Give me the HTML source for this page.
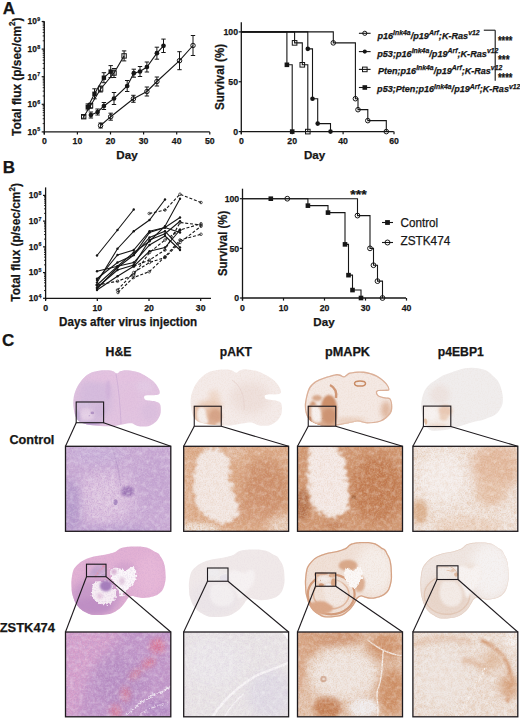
<!DOCTYPE html>
<html><head><meta charset="utf-8"><style>
html,body{margin:0;padding:0;background:#fff;width:520px;height:718px;overflow:hidden}
svg{display:block}
text{font-family:"Liberation Sans",sans-serif;fill:#161616;stroke:#161616;stroke-width:0.25px}
</style></head><body>
<svg width="520" height="718" viewBox="0 0 520 718">
<defs>
<filter id="b05" x="-50%" y="-50%" width="200%" height="200%"><feGaussianBlur stdDeviation="0.6"/></filter>
<filter id="b1" x="-50%" y="-50%" width="200%" height="200%"><feGaussianBlur stdDeviation="1.2"/></filter>
<filter id="b2" x="-50%" y="-50%" width="200%" height="200%"><feGaussianBlur stdDeviation="2.5"/></filter>
<filter id="b4" x="-50%" y="-50%" width="200%" height="200%"><feGaussianBlur stdDeviation="4"/></filter>
<filter id="b6" x="-50%" y="-50%" width="200%" height="200%"><feGaussianBlur stdDeviation="6"/></filter>
<filter id="b9" x="-50%" y="-50%" width="200%" height="200%"><feGaussianBlur stdDeviation="9"/></filter>
<filter id="jag" x="-20%" y="-20%" width="140%" height="140%">
 <feTurbulence type="fractalNoise" baseFrequency="0.25" numOctaves="3" seed="7" result="t"/>
 <feDisplacementMap in="SourceGraphic" in2="t" scale="14" xChannelSelector="R" yChannelSelector="G" result="d"/>
 <feGaussianBlur in="d" stdDeviation="1.0"/>
</filter>
<filter id="jag2" x="-20%" y="-20%" width="140%" height="140%">
 <feTurbulence type="fractalNoise" baseFrequency="0.4" numOctaves="2" seed="3" result="t"/>
 <feDisplacementMap in="SourceGraphic" in2="t" scale="5" xChannelSelector="R" yChannelSelector="G"/>
</filter>
<filter id="spP" x="0" y="0" width="100%" height="100%">
 <feTurbulence type="fractalNoise" baseFrequency="0.7" numOctaves="2" seed="4"/>
 <feColorMatrix type="matrix" values="0 0 0 0 0.50  0 0 0 0 0.31  0 0 0 0 0.60  2.2 0 0 0 -0.95"/>
</filter>
<filter id="spB" x="0" y="0" width="100%" height="100%">
 <feTurbulence type="fractalNoise" baseFrequency="0.7" numOctaves="2" seed="9"/>
 <feColorMatrix type="matrix" values="0 0 0 0 0.62  0 0 0 0 0.30  0 0 0 0 0.12  2.2 0 0 0 -0.95"/>
</filter>
<filter id="mP" x="0" y="0" width="100%" height="100%">
 <feTurbulence type="fractalNoise" baseFrequency="0.22" numOctaves="2" seed="21"/>
 <feColorMatrix type="matrix" values="0 0 0 0 0.58  0 0 0 0 0.40  0 0 0 0 0.68  2.0 0 0 0 -0.85"/>
</filter>
<filter id="mB" x="0" y="0" width="100%" height="100%">
 <feTurbulence type="fractalNoise" baseFrequency="0.22" numOctaves="2" seed="23"/>
 <feColorMatrix type="matrix" values="0 0 0 0 0.70  0 0 0 0 0.42  0 0 0 0 0.25  2.0 0 0 0 -0.85"/>
</filter>
<filter id="mW" x="0" y="0" width="100%" height="100%">
 <feTurbulence type="fractalNoise" baseFrequency="0.22" numOctaves="2" seed="27"/>
 <feColorMatrix type="matrix" values="0 0 0 0 1  0 0 0 0 1  0 0 0 0 1  2.0 0 0 0 -0.85"/>
</filter>
<filter id="spW" x="0" y="0" width="100%" height="100%">
 <feTurbulence type="fractalNoise" baseFrequency="0.6" numOctaves="2" seed="12"/>
 <feColorMatrix type="matrix" values="0 0 0 0 1  0 0 0 0 1  0 0 0 0 1  2.2 0 0 0 -0.95"/>
</filter>
</defs>
<clipPath id="cb0"><path d="M73.40,399.70 C73.73,396.48 74.45,393.22 75.80,390.00 C77.15,386.78 79.27,383.12 81.50,380.40 C83.73,377.68 86.32,375.30 89.20,373.70 C92.08,372.10 95.75,371.37 98.80,370.80 C101.85,370.23 105.13,370.23 107.50,370.30 C109.87,370.37 111.38,370.65 113.00,371.20 C114.62,371.75 115.98,373.60 117.20,373.60 C118.42,373.60 118.57,371.77 120.30,371.20 C122.03,370.63 124.65,370.03 127.60,370.20 C130.55,370.37 134.88,371.17 138.00,372.20 C141.12,373.23 143.72,374.83 146.30,376.40 C148.88,377.97 151.52,379.70 153.50,381.60 C155.48,383.50 157.15,385.90 158.20,387.80 C159.25,389.70 160.05,391.78 159.80,393.00 C159.55,394.22 158.83,394.73 156.70,395.10 C154.57,395.47 149.08,394.97 147.00,395.20 C144.92,395.43 144.53,395.78 144.20,396.50 C143.87,397.22 144.13,398.82 145.00,399.50 C145.87,400.18 147.63,400.27 149.40,400.60 C151.17,400.93 153.87,400.97 155.60,401.50 C157.33,402.03 158.93,402.45 159.80,403.80 C160.67,405.15 160.80,407.60 160.80,409.60 C160.80,411.60 160.67,413.72 159.80,415.80 C158.93,417.88 157.52,420.37 155.60,422.10 C153.68,423.83 151.07,425.52 148.30,426.20 C145.53,426.88 141.33,426.50 139.00,426.20 C136.67,425.90 135.68,424.88 134.30,424.40 C132.92,423.92 132.68,423.30 130.70,423.30 C128.72,423.30 125.52,423.92 122.40,424.40 C119.28,424.88 115.73,425.93 112.00,426.20 C108.27,426.47 103.67,426.20 100.00,426.00 C96.33,425.80 92.60,425.38 90.00,425.00 C87.40,424.62 86.13,424.23 84.40,423.70 C82.67,423.17 81.03,422.92 79.60,421.80 C78.17,420.68 76.77,419.08 75.80,417.00 C74.83,414.92 74.20,412.18 73.80,409.30 C73.40,406.42 73.07,402.92 73.40,399.70Z"/></clipPath>
<path d="M73.40,399.70 C73.73,396.48 74.45,393.22 75.80,390.00 C77.15,386.78 79.27,383.12 81.50,380.40 C83.73,377.68 86.32,375.30 89.20,373.70 C92.08,372.10 95.75,371.37 98.80,370.80 C101.85,370.23 105.13,370.23 107.50,370.30 C109.87,370.37 111.38,370.65 113.00,371.20 C114.62,371.75 115.98,373.60 117.20,373.60 C118.42,373.60 118.57,371.77 120.30,371.20 C122.03,370.63 124.65,370.03 127.60,370.20 C130.55,370.37 134.88,371.17 138.00,372.20 C141.12,373.23 143.72,374.83 146.30,376.40 C148.88,377.97 151.52,379.70 153.50,381.60 C155.48,383.50 157.15,385.90 158.20,387.80 C159.25,389.70 160.05,391.78 159.80,393.00 C159.55,394.22 158.83,394.73 156.70,395.10 C154.57,395.47 149.08,394.97 147.00,395.20 C144.92,395.43 144.53,395.78 144.20,396.50 C143.87,397.22 144.13,398.82 145.00,399.50 C145.87,400.18 147.63,400.27 149.40,400.60 C151.17,400.93 153.87,400.97 155.60,401.50 C157.33,402.03 158.93,402.45 159.80,403.80 C160.67,405.15 160.80,407.60 160.80,409.60 C160.80,411.60 160.67,413.72 159.80,415.80 C158.93,417.88 157.52,420.37 155.60,422.10 C153.68,423.83 151.07,425.52 148.30,426.20 C145.53,426.88 141.33,426.50 139.00,426.20 C136.67,425.90 135.68,424.88 134.30,424.40 C132.92,423.92 132.68,423.30 130.70,423.30 C128.72,423.30 125.52,423.92 122.40,424.40 C119.28,424.88 115.73,425.93 112.00,426.20 C108.27,426.47 103.67,426.20 100.00,426.00 C96.33,425.80 92.60,425.38 90.00,425.00 C87.40,424.62 86.13,424.23 84.40,423.70 C82.67,423.17 81.03,422.92 79.60,421.80 C78.17,420.68 76.77,419.08 75.80,417.00 C74.83,414.92 74.20,412.18 73.80,409.30 C73.40,406.42 73.07,402.92 73.40,399.70Z" fill="#e2c4e0"/>
<g clip-path="url(#cb0)"><ellipse cx="95" cy="398" rx="18" ry="22" fill="#d6bcdd" filter="url(#b4)"/><ellipse cx="118" cy="377" rx="40" ry="5" fill="#e4c3e0" filter="url(#b2)"/><ellipse cx="108" cy="390" rx="2.5" ry="10" fill="#d2b4da" filter="url(#b1)"/><ellipse cx="128" cy="400" rx="10" ry="14" fill="#e2c2df" filter="url(#b4)"/><ellipse cx="145" cy="386" rx="8" ry="6" fill="#e3cbe4" filter="url(#b2)"/><ellipse cx="150" cy="412" rx="9" ry="10" fill="#dcc0de" filter="url(#b2)"/><path d="M116,374 C118,385 120,400 121,424" stroke="#d2b2d8" stroke-width="1" fill="none" filter="url(#b05)"/><g transform="translate(76.2,402) scale(0.2602,0.2435)" filter="url(#b2)"><rect x="-2" y="-2" width="109.3" height="89.0" fill="#c9aad3"/><ellipse cx="40" cy="52" rx="30" ry="27" fill="#dbc0de" filter="url(#b6)"/><ellipse cx="40" cy="52" rx="14" ry="12" fill="#dfc6e0" filter="url(#b4)"/><ellipse cx="6" cy="62" rx="9" ry="30" fill="#b297c9" filter="url(#b4)"/><ellipse cx="50" cy="88" rx="45" ry="8" fill="#b79bcd" filter="url(#b4)"/><ellipse cx="90" cy="35" rx="18" ry="28" fill="#c4a4d0" filter="url(#b6)"/><ellipse cx="30" cy="8" rx="28" ry="10" fill="#c9b0d8" filter="url(#b4)"/><ellipse cx="62" cy="45" rx="7" ry="5.5" fill="#9c74b4" filter="url(#b1)"/><ellipse cx="50" cy="56" rx="2" ry="3" fill="#a080bb" filter="url(#b05)"/><path d="M46,0 C50,10 54,25 55,40" stroke="#a583bb" stroke-width="0.5" fill="none"/></g><rect x="76.2" y="402" width="27.40" height="20.70" fill="#ffffff" opacity="0.22"/><rect x="71.4" y="368.2" width="91.4" height="60.0" filter="url(#spP)" opacity="0.12"/></g>
<clipPath id="cb1"><path d="M190.70,398.90 C191.05,395.68 191.80,392.42 193.21,389.20 C194.62,385.98 196.83,382.32 199.16,379.60 C201.50,376.88 204.20,374.50 207.21,372.90 C210.22,371.30 214.06,370.57 217.24,370.00 C220.43,369.43 223.86,369.43 226.33,369.50 C228.81,369.57 230.39,369.85 232.08,370.40 C233.77,370.95 235.20,372.80 236.47,372.80 C237.74,372.80 237.90,370.97 239.71,370.40 C241.52,369.83 244.26,369.23 247.34,369.40 C250.42,369.57 254.95,370.37 258.21,371.40 C261.46,372.43 264.18,374.03 266.88,375.60 C269.58,377.17 272.33,378.90 274.40,380.80 C276.48,382.70 278.22,385.10 279.32,387.00 C280.41,388.90 281.25,390.98 280.99,392.20 C280.73,393.42 279.98,393.93 277.75,394.30 C275.52,394.67 269.79,394.17 267.61,394.40 C265.43,394.63 265.03,394.98 264.69,395.70 C264.34,396.42 264.62,398.02 265.52,398.70 C266.43,399.38 268.27,399.47 270.12,399.80 C271.97,400.13 274.79,400.17 276.60,400.70 C278.41,401.23 280.08,401.65 280.99,403.00 C281.89,404.35 282.03,406.80 282.03,408.80 C282.03,410.80 281.89,412.92 280.99,415.00 C280.08,417.08 278.60,419.57 276.60,421.30 C274.60,423.03 271.86,424.72 268.97,425.40 C266.08,426.08 261.69,425.70 259.25,425.40 C256.81,425.10 255.79,424.08 254.34,423.60 C252.89,423.12 252.65,422.50 250.58,422.50 C248.51,422.50 245.16,423.12 241.91,423.60 C238.65,424.08 234.94,425.13 231.04,425.40 C227.14,425.67 222.33,425.40 218.50,425.20 C214.67,425.00 210.76,424.58 208.05,424.20 C205.33,423.82 204.01,423.43 202.19,422.90 C200.38,422.37 198.68,422.12 197.18,421.00 C195.68,419.88 194.22,418.28 193.21,416.20 C192.20,414.12 191.54,411.38 191.12,408.50 C190.70,405.62 190.35,402.12 190.70,398.90Z"/></clipPath>
<path d="M190.70,398.90 C191.05,395.68 191.80,392.42 193.21,389.20 C194.62,385.98 196.83,382.32 199.16,379.60 C201.50,376.88 204.20,374.50 207.21,372.90 C210.22,371.30 214.06,370.57 217.24,370.00 C220.43,369.43 223.86,369.43 226.33,369.50 C228.81,369.57 230.39,369.85 232.08,370.40 C233.77,370.95 235.20,372.80 236.47,372.80 C237.74,372.80 237.90,370.97 239.71,370.40 C241.52,369.83 244.26,369.23 247.34,369.40 C250.42,369.57 254.95,370.37 258.21,371.40 C261.46,372.43 264.18,374.03 266.88,375.60 C269.58,377.17 272.33,378.90 274.40,380.80 C276.48,382.70 278.22,385.10 279.32,387.00 C280.41,388.90 281.25,390.98 280.99,392.20 C280.73,393.42 279.98,393.93 277.75,394.30 C275.52,394.67 269.79,394.17 267.61,394.40 C265.43,394.63 265.03,394.98 264.69,395.70 C264.34,396.42 264.62,398.02 265.52,398.70 C266.43,399.38 268.27,399.47 270.12,399.80 C271.97,400.13 274.79,400.17 276.60,400.70 C278.41,401.23 280.08,401.65 280.99,403.00 C281.89,404.35 282.03,406.80 282.03,408.80 C282.03,410.80 281.89,412.92 280.99,415.00 C280.08,417.08 278.60,419.57 276.60,421.30 C274.60,423.03 271.86,424.72 268.97,425.40 C266.08,426.08 261.69,425.70 259.25,425.40 C256.81,425.10 255.79,424.08 254.34,423.60 C252.89,423.12 252.65,422.50 250.58,422.50 C248.51,422.50 245.16,423.12 241.91,423.60 C238.65,424.08 234.94,425.13 231.04,425.40 C227.14,425.67 222.33,425.40 218.50,425.20 C214.67,425.00 210.76,424.58 208.05,424.20 C205.33,423.82 204.01,423.43 202.19,422.90 C200.38,422.37 198.68,422.12 197.18,421.00 C195.68,419.88 194.22,418.28 193.21,416.20 C192.20,414.12 191.54,411.38 191.12,408.50 C190.70,405.62 190.35,402.12 190.70,398.90Z" fill="#f4ebe9"/>
<g clip-path="url(#cb1)"><ellipse cx="214" cy="398" rx="6" ry="8" fill="#efd9cc" filter="url(#b2)"/><ellipse cx="210" cy="405" rx="13" ry="4" fill="#e9cab6" filter="url(#b2)"/><ellipse cx="250" cy="398" rx="20" ry="16" fill="#eee0dc" filter="url(#b4)"/><path d="M232,380 C240,385 245,395 244,410" stroke="#e8d6d2" stroke-width="1" fill="none"/><g transform="translate(194.25,406.25) scale(0.2564,0.2353)" filter="url(#b2)"><rect x="-2" y="-2" width="109.3" height="89.0" fill="#dcaa8a"/><ellipse cx="82" cy="42" rx="24" ry="30" fill="#cb8b67" filter="url(#b6)"/><ellipse cx="70" cy="62" rx="18" ry="8" fill="#cf9170" filter="url(#b4)"/><ellipse cx="62" cy="70" rx="20" ry="8" fill="#d49b7a" filter="url(#b4)"/><ellipse cx="50" cy="6" rx="10" ry="7" fill="#e4c0aa" filter="url(#b4)"/><path d="M22,4 C32,1 42,3 45,16 C46,32 47,48 53,58 C57,66 55,72 47,75 C37,78 26,74 18,66 C11,56 9,40 11,26 C12,16 16,8 22,4Z" fill="#f3e9e6" filter="url(#b4)"/><ellipse cx="4" cy="40" rx="5" ry="38" fill="#e0b498" filter="url(#b2)"/><ellipse cx="98" cy="80" rx="14" ry="10" fill="#ebd5c8" filter="url(#b4)"/><ellipse cx="12" cy="85" rx="26" ry="9" fill="#efe3dc" filter="url(#b2)"/></g><rect x="194.25" y="406.25" width="27.00" height="20.00" fill="#ffffff" opacity="0.22"/><rect x="188.7" y="367.4" width="95.3" height="60.0" filter="url(#spB)" opacity="0.08"/></g>
<clipPath id="cb2"><path d="M304.80,406.20 C304.80,401.70 306.50,394.50 307.70,390.80 C308.90,387.10 310.08,385.92 312.00,384.00 C313.92,382.08 315.43,380.88 319.20,379.30 C322.97,377.72 331.13,375.28 334.60,374.50 C338.07,373.72 338.40,374.32 340.00,374.60 C341.60,374.88 342.53,376.53 344.20,376.20 C345.87,375.87 346.78,373.37 350.00,372.60 C353.22,371.83 359.02,371.12 363.50,371.60 C367.98,372.08 373.07,373.57 376.90,375.50 C380.73,377.43 384.42,380.80 386.50,383.20 C388.58,385.60 389.82,388.60 389.40,389.90 C388.98,391.20 385.98,390.73 384.00,391.00 C382.02,391.27 378.42,390.80 377.50,391.50 C376.58,392.20 377.25,394.23 378.50,395.20 C379.75,396.17 383.02,396.75 385.00,397.30 C386.98,397.85 389.18,397.02 390.40,398.50 C391.62,399.98 392.30,403.63 392.30,406.20 C392.30,408.77 392.32,411.33 390.40,413.90 C388.48,416.47 384.65,420.00 380.80,421.60 C376.95,423.20 371.15,423.50 367.30,423.50 C363.45,423.50 360.90,421.60 357.70,421.60 C354.50,421.60 352.92,422.70 348.10,423.50 C343.28,424.30 334.25,426.40 328.80,426.40 C323.35,426.40 318.92,424.93 315.40,423.50 C311.88,422.07 309.47,420.68 307.70,417.80 C305.93,414.92 304.80,410.70 304.80,406.20Z"/></clipPath>
<path d="M304.80,406.20 C304.80,401.70 306.50,394.50 307.70,390.80 C308.90,387.10 310.08,385.92 312.00,384.00 C313.92,382.08 315.43,380.88 319.20,379.30 C322.97,377.72 331.13,375.28 334.60,374.50 C338.07,373.72 338.40,374.32 340.00,374.60 C341.60,374.88 342.53,376.53 344.20,376.20 C345.87,375.87 346.78,373.37 350.00,372.60 C353.22,371.83 359.02,371.12 363.50,371.60 C367.98,372.08 373.07,373.57 376.90,375.50 C380.73,377.43 384.42,380.80 386.50,383.20 C388.58,385.60 389.82,388.60 389.40,389.90 C388.98,391.20 385.98,390.73 384.00,391.00 C382.02,391.27 378.42,390.80 377.50,391.50 C376.58,392.20 377.25,394.23 378.50,395.20 C379.75,396.17 383.02,396.75 385.00,397.30 C386.98,397.85 389.18,397.02 390.40,398.50 C391.62,399.98 392.30,403.63 392.30,406.20 C392.30,408.77 392.32,411.33 390.40,413.90 C388.48,416.47 384.65,420.00 380.80,421.60 C376.95,423.20 371.15,423.50 367.30,423.50 C363.45,423.50 360.90,421.60 357.70,421.60 C354.50,421.60 352.92,422.70 348.10,423.50 C343.28,424.30 334.25,426.40 328.80,426.40 C323.35,426.40 318.92,424.93 315.40,423.50 C311.88,422.07 309.47,420.68 307.70,417.80 C305.93,414.92 304.80,410.70 304.80,406.20Z" fill="#f4e9e4"/>
<g clip-path="url(#cb2)"><path d="M304.80,406.20 C304.80,401.70 306.50,394.50 307.70,390.80 C308.90,387.10 310.08,385.92 312.00,384.00 C313.92,382.08 315.43,380.88 319.20,379.30 C322.97,377.72 331.13,375.28 334.60,374.50 C338.07,373.72 338.40,374.32 340.00,374.60 C341.60,374.88 342.53,376.53 344.20,376.20 C345.87,375.87 346.78,373.37 350.00,372.60 C353.22,371.83 359.02,371.12 363.50,371.60 C367.98,372.08 373.07,373.57 376.90,375.50 C380.73,377.43 384.42,380.80 386.50,383.20 C388.58,385.60 389.82,388.60 389.40,389.90 C388.98,391.20 385.98,390.73 384.00,391.00 C382.02,391.27 378.42,390.80 377.50,391.50 C376.58,392.20 377.25,394.23 378.50,395.20 C379.75,396.17 383.02,396.75 385.00,397.30 C386.98,397.85 389.18,397.02 390.40,398.50 C391.62,399.98 392.30,403.63 392.30,406.20 C392.30,408.77 392.32,411.33 390.40,413.90 C388.48,416.47 384.65,420.00 380.80,421.60 C376.95,423.20 371.15,423.50 367.30,423.50 C363.45,423.50 360.90,421.60 357.70,421.60 C354.50,421.60 352.92,422.70 348.10,423.50 C343.28,424.30 334.25,426.40 328.80,426.40 C323.35,426.40 318.92,424.93 315.40,423.50 C311.88,422.07 309.47,420.68 307.70,417.80 C305.93,414.92 304.80,410.70 304.80,406.20Z" fill="none" stroke="#dcb19a" stroke-width="2.6" filter="url(#b05)"/><ellipse cx="313" cy="411" rx="4" ry="10" fill="#cf9673" filter="url(#b1)"/><ellipse cx="329" cy="408" rx="8" ry="13" fill="#cc8f6b" filter="url(#b1)"/><ellipse cx="322" cy="422" rx="12" ry="4" fill="#d39c7b" filter="url(#b1)"/><ellipse cx="317" cy="398" rx="5" ry="3" fill="#d8a98c" filter="url(#b1)"/><path d="M330,385 C334,387 337,391 336,398" stroke="#d09776" stroke-width="2.5" fill="none" filter="url(#b05)"/><ellipse cx="360" cy="383.5" rx="5.5" ry="2.6" fill="none" stroke="#c98c66" stroke-width="1.5"/><ellipse cx="386" cy="410" rx="5" ry="9" fill="#e0b8a0" filter="url(#b2)"/><ellipse cx="350" cy="421" rx="16" ry="3" fill="#e8cbb8" filter="url(#b2)"/><g transform="translate(308.25,406.25) scale(0.2612,0.2353)" filter="url(#b2)"><rect x="-2" y="-2" width="109.3" height="89.0" fill="#cf9470"/><ellipse cx="80" cy="42" rx="27" ry="34" fill="#bf774d" filter="url(#b6)"/><path d="M13,-2 C30,-4 46,0 48,20 C50,38 52,54 49,64 C43,72 30,72 20,65 C12,56 10,38 11,22 C11,10 12,3 13,-2Z" fill="#f5ece9" filter="url(#b4)"/><ellipse cx="5" cy="58" rx="7" ry="16" fill="#b06c46" filter="url(#b2)"/><ellipse cx="36" cy="79" rx="9" ry="4" fill="#c4835e" filter="url(#b2)"/><ellipse cx="56" cy="51" rx="2.5" ry="2" fill="#a86a45" filter="url(#b05)"/></g><rect x="308.25" y="406.25" width="27.50" height="20.00" fill="#ffffff" opacity="0.22"/><rect x="302.8" y="369.6" width="91.5" height="58.8" filter="url(#spB)" opacity="0.1"/></g>
<clipPath id="cb3"><path d="M421.20,403.60 C421.53,399.93 422.70,395.10 424.00,392.00 C425.30,388.90 427.05,387.00 429.00,385.00 C430.95,383.00 433.53,381.50 435.70,380.00 C437.87,378.50 439.58,377.20 442.00,376.00 C444.42,374.80 447.70,373.72 450.20,372.80 C452.70,371.88 454.60,371.25 457.00,370.50 C459.40,369.75 461.93,368.75 464.60,368.30 C467.27,367.85 469.98,367.65 473.00,367.80 C476.02,367.95 480.20,368.58 482.70,369.20 C485.20,369.82 486.18,370.28 488.00,371.50 C489.82,372.72 491.93,374.92 493.60,376.50 C495.27,378.08 496.80,379.20 498.00,381.00 C499.20,382.80 500.03,384.97 500.80,387.30 C501.57,389.63 502.30,392.28 502.60,395.00 C502.90,397.72 503.12,401.10 502.60,403.60 C502.08,406.10 500.70,408.20 499.50,410.00 C498.30,411.80 497.15,413.15 495.40,414.40 C493.65,415.65 491.12,416.58 489.00,417.50 C486.88,418.42 485.03,419.23 482.70,419.90 C480.37,420.57 477.42,420.90 475.00,421.50 C472.58,422.10 470.87,422.67 468.20,423.50 C465.53,424.33 462.00,425.60 459.00,426.50 C456.00,427.40 453.37,428.25 450.20,428.90 C447.03,429.55 443.02,430.10 440.00,430.40 C436.98,430.70 434.18,431.10 432.10,430.70 C430.02,430.30 428.70,429.20 427.50,428.00 C426.30,426.80 425.82,425.83 424.90,423.50 C423.98,421.17 422.62,417.32 422.00,414.00 C421.38,410.68 420.87,407.27 421.20,403.60Z"/></clipPath>
<path d="M421.20,403.60 C421.53,399.93 422.70,395.10 424.00,392.00 C425.30,388.90 427.05,387.00 429.00,385.00 C430.95,383.00 433.53,381.50 435.70,380.00 C437.87,378.50 439.58,377.20 442.00,376.00 C444.42,374.80 447.70,373.72 450.20,372.80 C452.70,371.88 454.60,371.25 457.00,370.50 C459.40,369.75 461.93,368.75 464.60,368.30 C467.27,367.85 469.98,367.65 473.00,367.80 C476.02,367.95 480.20,368.58 482.70,369.20 C485.20,369.82 486.18,370.28 488.00,371.50 C489.82,372.72 491.93,374.92 493.60,376.50 C495.27,378.08 496.80,379.20 498.00,381.00 C499.20,382.80 500.03,384.97 500.80,387.30 C501.57,389.63 502.30,392.28 502.60,395.00 C502.90,397.72 503.12,401.10 502.60,403.60 C502.08,406.10 500.70,408.20 499.50,410.00 C498.30,411.80 497.15,413.15 495.40,414.40 C493.65,415.65 491.12,416.58 489.00,417.50 C486.88,418.42 485.03,419.23 482.70,419.90 C480.37,420.57 477.42,420.90 475.00,421.50 C472.58,422.10 470.87,422.67 468.20,423.50 C465.53,424.33 462.00,425.60 459.00,426.50 C456.00,427.40 453.37,428.25 450.20,428.90 C447.03,429.55 443.02,430.10 440.00,430.40 C436.98,430.70 434.18,431.10 432.10,430.70 C430.02,430.30 428.70,429.20 427.50,428.00 C426.30,426.80 425.82,425.83 424.90,423.50 C423.98,421.17 422.62,417.32 422.00,414.00 C421.38,410.68 420.87,407.27 421.20,403.60Z" fill="#f0eded"/>
<g clip-path="url(#cb3)"><ellipse cx="440" cy="395" rx="10" ry="10" fill="#ede3e0" filter="url(#b2)"/><g transform="translate(423.4,406.1) scale(0.2602,0.2400)" filter="url(#b2)"><rect x="-2" y="-2" width="109.3" height="89.0" fill="#f1e7e2"/><ellipse cx="84" cy="20" rx="26" ry="24" fill="#e3baa0" filter="url(#b6)"/><ellipse cx="78" cy="46" rx="15" ry="14" fill="#e6c3ab" filter="url(#b4)"/><ellipse cx="7" cy="65" rx="8" ry="13" fill="#dbb08f" filter="url(#b2)"/><ellipse cx="55" cy="80" rx="35" ry="9" fill="#ecd5c6" filter="url(#b4)"/><ellipse cx="30" cy="32" rx="25" ry="26" fill="#f5efed" filter="url(#b6)"/></g><rect x="423.4" y="406.1" width="27.40" height="20.40" fill="#ffffff" opacity="0.22"/><rect x="419.2" y="365.8" width="85.4" height="66.9" filter="url(#spB)" opacity="0.05"/></g>
<clipPath id="zb0"><path d="M71.50,579.84 C71.84,576.98 72.34,572.43 73.52,569.74 C74.70,567.04 76.72,565.36 78.58,563.68 C80.43,561.99 82.11,560.81 84.64,559.63 C87.17,558.46 90.20,557.45 93.74,556.60 C97.27,555.76 102.83,555.17 105.87,554.58 C108.90,553.99 110.25,553.57 111.93,553.07 C113.61,552.56 114.63,552.31 115.97,551.55 C117.32,550.79 118.33,549.28 120.02,548.52 C121.70,547.76 124.06,547.34 126.08,547.01 C128.10,546.67 129.79,546.58 132.15,546.50 C134.50,546.42 137.87,546.33 140.23,546.50 C142.59,546.67 144.61,547.09 146.30,547.51 C147.98,547.93 148.99,548.35 150.34,549.03 C151.69,549.70 153.03,550.79 154.38,551.55 C155.73,552.31 157.41,552.73 158.42,553.57 C159.44,554.41 159.60,555.26 160.45,556.60 C161.29,557.95 162.72,559.80 163.48,561.65 C164.24,563.51 164.66,565.53 164.99,567.72 C165.33,569.91 165.42,572.77 165.50,574.79 C165.58,576.81 165.67,578.16 165.50,579.84 C165.33,581.52 164.99,583.21 164.49,584.89 C163.98,586.58 163.48,588.43 162.47,589.94 C161.46,591.46 159.77,592.97 158.42,593.99 C157.08,595.00 156.07,595.42 154.38,596.01 C152.70,596.60 150.34,597.18 148.32,597.52 C146.30,597.86 144.27,598.11 142.25,598.03 C140.23,597.94 137.87,597.35 136.19,597.02 C134.50,596.68 133.49,595.84 132.15,596.01 C130.80,596.17 129.11,597.18 128.10,598.03 C127.09,598.87 126.92,599.88 126.08,601.06 C125.24,602.24 124.06,603.92 123.05,605.10 C122.04,606.28 121.53,606.95 120.02,608.13 C118.50,609.31 115.97,611.16 113.95,612.17 C111.93,613.18 110.25,613.72 107.89,614.19 C105.53,614.66 102.50,614.92 99.80,615.00 C97.11,615.08 94.07,615.17 91.72,614.70 C89.36,614.23 87.67,613.27 85.65,612.17 C83.63,611.08 81.27,609.65 79.59,608.13 C77.90,606.61 76.55,604.76 75.54,603.08 C74.53,601.39 74.11,599.71 73.52,598.03 C72.93,596.34 72.34,594.83 72.01,592.97 C71.67,591.12 71.58,589.10 71.50,586.91 C71.42,584.72 71.16,582.70 71.50,579.84Z"/></clipPath>
<path d="M71.50,579.84 C71.84,576.98 72.34,572.43 73.52,569.74 C74.70,567.04 76.72,565.36 78.58,563.68 C80.43,561.99 82.11,560.81 84.64,559.63 C87.17,558.46 90.20,557.45 93.74,556.60 C97.27,555.76 102.83,555.17 105.87,554.58 C108.90,553.99 110.25,553.57 111.93,553.07 C113.61,552.56 114.63,552.31 115.97,551.55 C117.32,550.79 118.33,549.28 120.02,548.52 C121.70,547.76 124.06,547.34 126.08,547.01 C128.10,546.67 129.79,546.58 132.15,546.50 C134.50,546.42 137.87,546.33 140.23,546.50 C142.59,546.67 144.61,547.09 146.30,547.51 C147.98,547.93 148.99,548.35 150.34,549.03 C151.69,549.70 153.03,550.79 154.38,551.55 C155.73,552.31 157.41,552.73 158.42,553.57 C159.44,554.41 159.60,555.26 160.45,556.60 C161.29,557.95 162.72,559.80 163.48,561.65 C164.24,563.51 164.66,565.53 164.99,567.72 C165.33,569.91 165.42,572.77 165.50,574.79 C165.58,576.81 165.67,578.16 165.50,579.84 C165.33,581.52 164.99,583.21 164.49,584.89 C163.98,586.58 163.48,588.43 162.47,589.94 C161.46,591.46 159.77,592.97 158.42,593.99 C157.08,595.00 156.07,595.42 154.38,596.01 C152.70,596.60 150.34,597.18 148.32,597.52 C146.30,597.86 144.27,598.11 142.25,598.03 C140.23,597.94 137.87,597.35 136.19,597.02 C134.50,596.68 133.49,595.84 132.15,596.01 C130.80,596.17 129.11,597.18 128.10,598.03 C127.09,598.87 126.92,599.88 126.08,601.06 C125.24,602.24 124.06,603.92 123.05,605.10 C122.04,606.28 121.53,606.95 120.02,608.13 C118.50,609.31 115.97,611.16 113.95,612.17 C111.93,613.18 110.25,613.72 107.89,614.19 C105.53,614.66 102.50,614.92 99.80,615.00 C97.11,615.08 94.07,615.17 91.72,614.70 C89.36,614.23 87.67,613.27 85.65,612.17 C83.63,611.08 81.27,609.65 79.59,608.13 C77.90,606.61 76.55,604.76 75.54,603.08 C74.53,601.39 74.11,599.71 73.52,598.03 C72.93,596.34 72.34,594.83 72.01,592.97 C71.67,591.12 71.58,589.10 71.50,586.91 C71.42,584.72 71.16,582.70 71.50,579.84Z" fill="#e2b1d4"/>
<g clip-path="url(#zb0)"><ellipse cx="95.8" cy="597.0" rx="25.3" ry="18.2" fill="#c89ac9" filter="url(#b4)" opacity="1"/><ellipse cx="91.7" cy="606.1" rx="20.2" ry="8.1" fill="#bf8fc4" filter="url(#b2)" opacity="1"/><ellipse cx="150.3" cy="574.8" rx="14.2" ry="20.2" fill="#e7b8d8" filter="url(#b4)" opacity="1"/><ellipse cx="124.1" cy="571.8" rx="12.1" ry="10.1" fill="#d6a6cf" filter="url(#b2)" opacity="1"/><path d="M109.91,570.75 C110.33,568.73 113.11,568.05 114.96,567.72 C116.82,567.38 119.17,568.31 121.03,568.73 C122.88,569.15 124.56,570.41 126.08,570.24 C127.60,570.07 128.81,568.22 130.12,567.72 C131.44,567.21 132.95,566.54 133.96,567.21 C134.98,567.89 135.99,569.65 136.19,571.76 C136.39,573.86 135.85,577.65 135.18,579.84 C134.50,582.03 133.49,583.21 132.15,584.89 C130.80,586.58 128.89,588.04 127.09,589.94 C125.29,591.85 122.93,596.48 121.33,596.31 C119.73,596.14 118.97,591.68 117.49,588.93 C116.01,586.19 113.70,582.87 112.44,579.84 C111.17,576.81 109.49,572.77 109.91,570.75Z" fill="#fbf7fa" filter="url(#jag2)"/><path d="M92.73,585.90 C93.32,583.71 94.41,582.62 95.76,581.86 C97.11,581.10 98.79,581.36 100.81,581.36 C102.83,581.36 105.87,581.10 107.89,581.86 C109.91,582.62 111.59,584.22 112.94,585.90 C114.29,587.59 115.64,589.78 115.97,591.96 C116.31,594.15 115.97,597.10 114.96,599.04 C113.95,600.97 112.10,602.78 109.91,603.58 C107.72,604.39 104.18,604.31 101.82,603.89 C99.46,603.47 97.36,602.54 95.76,601.06 C94.16,599.58 92.73,597.52 92.22,595.00 C91.72,592.47 92.14,588.09 92.73,585.90Z" fill="#f7eef4" filter="url(#jag2)"/><ellipse cx="105.9" cy="585.9" rx="6.1" ry="5.6" fill="#a57dbb" filter="url(#b1)" opacity="1"/><ellipse cx="114.0" cy="571.8" rx="3.0" ry="3.0" fill="#dcb8d6" filter="url(#b1)" opacity="1"/><ellipse cx="122.0" cy="580.9" rx="3.0" ry="4.0" fill="#e6d0e2" filter="url(#b1)" opacity="1"/><ellipse cx="99.8" cy="596.0" rx="3.0" ry="3.0" fill="#e8cde2" filter="url(#b1)" opacity="1"/><g transform="translate(86.5,564.2) scale(0.1852,0.1471)" filter="url(#b2)"><rect x="-2" y="-2" width="109.3" height="89.0" fill="#bf92c5"/><path d="M-5,-5 L60,-5 C50,10 35,25 25,40 C18,55 14,70 12,90 L-5,90Z" fill="#d59dc9" filter="url(#b6)"/><ellipse cx="55" cy="50" rx="25" ry="26" fill="#b68ac0" filter="url(#b6)"/><ellipse cx="92" cy="14" rx="8" ry="8" fill="#d77394" filter="url(#b2)" transform="rotate(-30 92 14)"/><ellipse cx="83" cy="31" rx="8" ry="4.5" fill="#d47896" filter="url(#b2)" transform="rotate(-30 83 31)"/><ellipse cx="70" cy="42" rx="8" ry="4" fill="#cf7f9c" filter="url(#b2)" transform="rotate(-40 70 42)"/><ellipse cx="60" cy="62" rx="5" ry="8" fill="#cf7e9e" filter="url(#b2)"/><ellipse cx="50" cy="80" rx="6" ry="8" fill="#d27a9b" filter="url(#b2)"/><ellipse cx="92" cy="76" rx="14" ry="9" fill="#b389c2" filter="url(#b2)"/><path d="M60,86 L64,80 L70,76 L74,71 L82,67 L88,62 L96,60 L106,54" stroke="#f4eef4" stroke-width="1.3" fill="none" filter="url(#b1)"/><path d="M72,86 L78,80 L86,76 L94,73 L106,70" stroke="#ece0ec" stroke-width="0.9" fill="none" filter="url(#b1)"/></g><rect x="86.5" y="564.2" width="19.50" height="12.50" fill="#ffffff" opacity="0.22"/><rect x="69.5" y="544.5" width="98.0" height="72.5" filter="url(#spP)" opacity="0.25"/></g>
<clipPath id="zb1"><path d="M189.00,582.35 C189.34,579.53 189.86,575.05 191.05,572.40 C192.25,569.74 194.31,568.08 196.19,566.42 C198.07,564.77 199.78,563.60 202.35,562.44 C204.92,561.28 208.00,560.29 211.59,559.46 C215.19,558.63 220.83,558.05 223.91,557.46 C226.99,556.88 228.36,556.47 230.08,555.97 C231.79,555.47 232.81,555.22 234.18,554.48 C235.55,553.73 236.58,552.24 238.29,551.49 C240.00,550.74 242.40,550.33 244.45,550.00 C246.51,549.67 248.22,549.58 250.61,549.50 C253.01,549.42 256.43,549.33 258.83,549.50 C261.22,549.67 263.28,550.08 264.99,550.50 C266.70,550.91 267.73,551.33 269.10,551.99 C270.47,552.65 271.84,553.73 273.20,554.48 C274.57,555.22 276.28,555.64 277.31,556.47 C278.34,557.30 278.51,558.13 279.37,559.46 C280.22,560.78 281.68,562.61 282.45,564.43 C283.22,566.26 283.64,568.25 283.99,570.41 C284.33,572.56 284.41,575.38 284.50,577.38 C284.59,579.37 284.67,580.69 284.50,582.35 C284.33,584.01 283.99,585.67 283.47,587.33 C282.96,588.99 282.45,590.82 281.42,592.31 C280.39,593.80 278.68,595.30 277.31,596.29 C275.94,597.29 274.92,597.70 273.20,598.28 C271.49,598.86 269.10,599.44 267.04,599.78 C264.99,600.11 262.94,600.36 260.88,600.27 C258.83,600.19 256.43,599.61 254.72,599.28 C253.01,598.95 251.98,598.12 250.61,598.28 C249.24,598.45 247.53,599.44 246.51,600.27 C245.48,601.10 245.31,602.10 244.45,603.26 C243.60,604.42 242.40,606.08 241.37,607.24 C240.34,608.40 239.83,609.07 238.29,610.23 C236.75,611.39 234.18,613.22 232.13,614.21 C230.08,615.21 228.36,615.74 225.97,616.20 C223.57,616.67 220.49,616.92 217.75,617.00 C215.01,617.08 211.93,617.17 209.54,616.70 C207.14,616.24 205.43,615.29 203.38,614.21 C201.32,613.13 198.93,611.72 197.22,610.23 C195.50,608.74 194.13,606.91 193.11,605.25 C192.08,603.59 191.65,601.93 191.05,600.27 C190.45,598.62 189.86,597.12 189.51,595.30 C189.17,593.47 189.09,591.48 189.00,589.32 C188.91,587.17 188.66,585.17 189.00,582.35Z"/></clipPath>
<path d="M189.00,582.35 C189.34,579.53 189.86,575.05 191.05,572.40 C192.25,569.74 194.31,568.08 196.19,566.42 C198.07,564.77 199.78,563.60 202.35,562.44 C204.92,561.28 208.00,560.29 211.59,559.46 C215.19,558.63 220.83,558.05 223.91,557.46 C226.99,556.88 228.36,556.47 230.08,555.97 C231.79,555.47 232.81,555.22 234.18,554.48 C235.55,553.73 236.58,552.24 238.29,551.49 C240.00,550.74 242.40,550.33 244.45,550.00 C246.51,549.67 248.22,549.58 250.61,549.50 C253.01,549.42 256.43,549.33 258.83,549.50 C261.22,549.67 263.28,550.08 264.99,550.50 C266.70,550.91 267.73,551.33 269.10,551.99 C270.47,552.65 271.84,553.73 273.20,554.48 C274.57,555.22 276.28,555.64 277.31,556.47 C278.34,557.30 278.51,558.13 279.37,559.46 C280.22,560.78 281.68,562.61 282.45,564.43 C283.22,566.26 283.64,568.25 283.99,570.41 C284.33,572.56 284.41,575.38 284.50,577.38 C284.59,579.37 284.67,580.69 284.50,582.35 C284.33,584.01 283.99,585.67 283.47,587.33 C282.96,588.99 282.45,590.82 281.42,592.31 C280.39,593.80 278.68,595.30 277.31,596.29 C275.94,597.29 274.92,597.70 273.20,598.28 C271.49,598.86 269.10,599.44 267.04,599.78 C264.99,600.11 262.94,600.36 260.88,600.27 C258.83,600.19 256.43,599.61 254.72,599.28 C253.01,598.95 251.98,598.12 250.61,598.28 C249.24,598.45 247.53,599.44 246.51,600.27 C245.48,601.10 245.31,602.10 244.45,603.26 C243.60,604.42 242.40,606.08 241.37,607.24 C240.34,608.40 239.83,609.07 238.29,610.23 C236.75,611.39 234.18,613.22 232.13,614.21 C230.08,615.21 228.36,615.74 225.97,616.20 C223.57,616.67 220.49,616.92 217.75,617.00 C215.01,617.08 211.93,617.17 209.54,616.70 C207.14,616.24 205.43,615.29 203.38,614.21 C201.32,613.13 198.93,611.72 197.22,610.23 C195.50,608.74 194.13,606.91 193.11,605.25 C192.08,603.59 191.65,601.93 191.05,600.27 C190.45,598.62 189.86,597.12 189.51,595.30 C189.17,593.47 189.09,591.48 189.00,589.32 C188.91,587.17 188.66,585.17 189.00,582.35Z" fill="#f0e9e9"/>
<g clip-path="url(#zb1)"><ellipse cx="213.6" cy="599.3" rx="25.7" ry="17.9" fill="#ebe5e8" filter="url(#b4)" opacity="1"/><path d="M228.02,573.39 C228.45,571.40 231.27,570.74 233.16,570.41 C235.04,570.08 237.43,570.99 239.32,571.40 C241.20,571.82 242.91,573.06 244.45,572.90 C245.99,572.73 247.22,570.90 248.56,570.41 C249.89,569.91 251.43,569.25 252.46,569.91 C253.49,570.57 254.52,572.32 254.72,574.39 C254.93,576.46 254.38,580.20 253.69,582.35 C253.01,584.51 251.98,585.67 250.61,587.33 C249.24,588.99 247.31,590.43 245.48,592.31 C243.65,594.18 241.25,598.75 239.63,598.58 C238.00,598.42 237.23,594.02 235.72,591.31 C234.22,588.61 231.87,585.34 230.59,582.35 C229.31,579.37 227.59,575.38 228.02,573.39Z" fill="#f6f2f2" filter="url(#b1)"/><path d="M210.56,588.33 C211.16,586.17 212.28,585.09 213.65,584.35 C215.01,583.60 216.73,583.85 218.78,583.85 C220.83,583.85 223.91,583.60 225.97,584.35 C228.02,585.09 229.73,586.67 231.10,588.33 C232.47,589.99 233.84,592.14 234.18,594.30 C234.53,596.46 234.18,599.36 233.16,601.27 C232.13,603.18 230.25,604.95 228.02,605.75 C225.80,606.55 222.20,606.46 219.81,606.05 C217.41,605.63 215.27,604.72 213.65,603.26 C212.02,601.80 210.56,599.78 210.05,597.29 C209.54,594.80 209.97,590.48 210.56,588.33Z" fill="#f3eff0" filter="url(#b1)"/><g transform="translate(207.5,568) scale(0.1947,0.1559)" filter="url(#b2)"><rect x="-2" y="-2" width="109.3" height="89.0" fill="#e9e5e5"/><ellipse cx="86" cy="62" rx="22" ry="24" fill="#e0dce4" filter="url(#b4)"/><ellipse cx="30" cy="30" rx="30" ry="25" fill="#ebe8ea" filter="url(#b6)"/><path d="M28,86 C38,70 52,56 72,44 C84,38 95,36 106,30" stroke="#f8f6f6" stroke-width="2.5" fill="none" filter="url(#b05)"/><path d="M40,86 C46,76 52,68 60,62" stroke="#f6f4f4" stroke-width="1.5" fill="none" filter="url(#b05)"/><path d="M98,0 L106,0 L106,10Z" fill="#fff"/></g><rect x="207.5" y="568" width="20.50" height="13.25" fill="#ffffff" opacity="0.22"/><rect x="187.0" y="547.5" width="99.5" height="71.5" filter="url(#spP)" opacity="0.06"/></g>
<clipPath id="zb2"><path d="M305.00,578.75 C305.31,575.59 305.78,570.58 306.87,567.61 C307.96,564.64 309.83,562.79 311.55,560.93 C313.26,559.07 314.82,557.78 317.16,556.48 C319.50,555.18 322.31,554.06 325.58,553.14 C328.85,552.21 334.00,551.56 336.81,550.91 C339.61,550.26 340.86,549.79 342.42,549.24 C343.98,548.68 344.91,548.40 346.16,547.57 C347.41,546.73 348.34,545.06 349.90,544.23 C351.46,543.39 353.65,542.93 355.52,542.56 C357.39,542.19 358.95,542.09 361.13,542.00 C363.31,541.91 366.43,541.81 368.61,542.00 C370.80,542.19 372.67,542.65 374.23,543.11 C375.78,543.58 376.72,544.04 377.97,544.78 C379.22,545.53 380.46,546.73 381.71,547.57 C382.96,548.40 384.52,548.87 385.45,549.79 C386.39,550.72 386.54,551.65 387.32,553.14 C388.10,554.62 389.43,556.66 390.13,558.70 C390.83,560.75 391.22,562.97 391.53,565.38 C391.84,567.80 391.92,570.95 392.00,573.18 C392.08,575.41 392.16,576.89 392.00,578.75 C391.84,580.60 391.53,582.46 391.06,584.32 C390.60,586.17 390.13,588.21 389.19,589.88 C388.26,591.55 386.70,593.22 385.45,594.34 C384.20,595.45 383.27,595.92 381.71,596.56 C380.15,597.21 377.97,597.86 376.10,598.24 C374.23,598.61 372.35,598.88 370.48,598.79 C368.61,598.70 366.43,598.05 364.87,597.68 C363.31,597.31 362.38,596.38 361.13,596.56 C359.88,596.75 358.32,597.86 357.39,598.79 C356.45,599.72 356.30,600.83 355.52,602.13 C354.74,603.43 353.65,605.29 352.71,606.59 C351.77,607.89 351.31,608.63 349.90,609.93 C348.50,611.23 346.16,613.27 344.29,614.38 C342.42,615.50 340.86,616.09 338.68,616.61 C336.49,617.13 333.69,617.41 331.19,617.50 C328.70,617.59 325.89,617.69 323.71,617.17 C321.53,616.65 319.97,615.59 318.10,614.38 C316.23,613.18 314.04,611.60 312.48,609.93 C310.92,608.26 309.68,606.22 308.74,604.36 C307.81,602.50 307.42,600.65 306.87,598.79 C306.33,596.94 305.78,595.27 305.47,593.22 C305.16,591.18 305.08,588.96 305.00,586.54 C304.92,584.13 304.69,581.90 305.00,578.75Z"/></clipPath>
<path d="M305.00,578.75 C305.31,575.59 305.78,570.58 306.87,567.61 C307.96,564.64 309.83,562.79 311.55,560.93 C313.26,559.07 314.82,557.78 317.16,556.48 C319.50,555.18 322.31,554.06 325.58,553.14 C328.85,552.21 334.00,551.56 336.81,550.91 C339.61,550.26 340.86,549.79 342.42,549.24 C343.98,548.68 344.91,548.40 346.16,547.57 C347.41,546.73 348.34,545.06 349.90,544.23 C351.46,543.39 353.65,542.93 355.52,542.56 C357.39,542.19 358.95,542.09 361.13,542.00 C363.31,541.91 366.43,541.81 368.61,542.00 C370.80,542.19 372.67,542.65 374.23,543.11 C375.78,543.58 376.72,544.04 377.97,544.78 C379.22,545.53 380.46,546.73 381.71,547.57 C382.96,548.40 384.52,548.87 385.45,549.79 C386.39,550.72 386.54,551.65 387.32,553.14 C388.10,554.62 389.43,556.66 390.13,558.70 C390.83,560.75 391.22,562.97 391.53,565.38 C391.84,567.80 391.92,570.95 392.00,573.18 C392.08,575.41 392.16,576.89 392.00,578.75 C391.84,580.60 391.53,582.46 391.06,584.32 C390.60,586.17 390.13,588.21 389.19,589.88 C388.26,591.55 386.70,593.22 385.45,594.34 C384.20,595.45 383.27,595.92 381.71,596.56 C380.15,597.21 377.97,597.86 376.10,598.24 C374.23,598.61 372.35,598.88 370.48,598.79 C368.61,598.70 366.43,598.05 364.87,597.68 C363.31,597.31 362.38,596.38 361.13,596.56 C359.88,596.75 358.32,597.86 357.39,598.79 C356.45,599.72 356.30,600.83 355.52,602.13 C354.74,603.43 353.65,605.29 352.71,606.59 C351.77,607.89 351.31,608.63 349.90,609.93 C348.50,611.23 346.16,613.27 344.29,614.38 C342.42,615.50 340.86,616.09 338.68,616.61 C336.49,617.13 333.69,617.41 331.19,617.50 C328.70,617.59 325.89,617.69 323.71,617.17 C321.53,616.65 319.97,615.59 318.10,614.38 C316.23,613.18 314.04,611.60 312.48,609.93 C310.92,608.26 309.68,606.22 308.74,604.36 C307.81,602.50 307.42,600.65 306.87,598.79 C306.33,596.94 305.78,595.27 305.47,593.22 C305.16,591.18 305.08,588.96 305.00,586.54 C304.92,584.13 304.69,581.90 305.00,578.75Z" fill="#f0e1d8"/>
<g clip-path="url(#zb2)"><ellipse cx="374.2" cy="569.8" rx="18.7" ry="24.5" fill="#f5eeea" filter="url(#b4)" opacity="1"/><path d="M305.00,578.75 C305.31,575.59 305.78,570.58 306.87,567.61 C307.96,564.64 309.83,562.79 311.55,560.93 C313.26,559.07 314.82,557.78 317.16,556.48 C319.50,555.18 322.31,554.06 325.58,553.14 C328.85,552.21 334.00,551.56 336.81,550.91 C339.61,550.26 340.86,549.79 342.42,549.24 C343.98,548.68 344.91,548.40 346.16,547.57 C347.41,546.73 348.34,545.06 349.90,544.23 C351.46,543.39 353.65,542.93 355.52,542.56 C357.39,542.19 358.95,542.09 361.13,542.00 C363.31,541.91 366.43,541.81 368.61,542.00 C370.80,542.19 372.67,542.65 374.23,543.11 C375.78,543.58 376.72,544.04 377.97,544.78 C379.22,545.53 380.46,546.73 381.71,547.57 C382.96,548.40 384.52,548.87 385.45,549.79 C386.39,550.72 386.54,551.65 387.32,553.14 C388.10,554.62 389.43,556.66 390.13,558.70 C390.83,560.75 391.22,562.97 391.53,565.38 C391.84,567.80 391.92,570.95 392.00,573.18 C392.08,575.41 392.16,576.89 392.00,578.75 C391.84,580.60 391.53,582.46 391.06,584.32 C390.60,586.17 390.13,588.21 389.19,589.88 C388.26,591.55 386.70,593.22 385.45,594.34 C384.20,595.45 383.27,595.92 381.71,596.56 C380.15,597.21 377.97,597.86 376.10,598.24 C374.23,598.61 372.35,598.88 370.48,598.79 C368.61,598.70 366.43,598.05 364.87,597.68 C363.31,597.31 362.38,596.38 361.13,596.56 C359.88,596.75 358.32,597.86 357.39,598.79 C356.45,599.72 356.30,600.83 355.52,602.13 C354.74,603.43 353.65,605.29 352.71,606.59 C351.77,607.89 351.31,608.63 349.90,609.93 C348.50,611.23 346.16,613.27 344.29,614.38 C342.42,615.50 340.86,616.09 338.68,616.61 C336.49,617.13 333.69,617.41 331.19,617.50 C328.70,617.59 325.89,617.69 323.71,617.17 C321.53,616.65 319.97,615.59 318.10,614.38 C316.23,613.18 314.04,611.60 312.48,609.93 C310.92,608.26 309.68,606.22 308.74,604.36 C307.81,602.50 307.42,600.65 306.87,598.79 C306.33,596.94 305.78,595.27 305.47,593.22 C305.16,591.18 305.08,588.96 305.00,586.54 C304.92,584.13 304.69,581.90 305.00,578.75Z" fill="none" stroke="#d6a487" stroke-width="2.6" filter="url(#b05)"/><ellipse cx="331.2" cy="594.3" rx="23.4" ry="20.0" fill="none" filter="url(#b05)" opacity="1" stroke="#d39c7c" stroke-width="2.2"/><ellipse cx="331.2" cy="594.3" rx="17.8" ry="14.5" fill="none" filter="url(#b05)" opacity="1" stroke="#e0b8a0" stroke-width="1.5"/><ellipse cx="320.0" cy="607.7" rx="13.1" ry="6.7" fill="#dba88a" filter="url(#b1)" opacity="1"/><ellipse cx="348.0" cy="565.4" rx="9.4" ry="5.6" fill="#d9a98b" filter="url(#b1)" opacity="1"/><ellipse cx="359.3" cy="583.2" rx="5.6" ry="8.9" fill="#dcae92" filter="url(#b1)" opacity="1"/><path d="M346.91,568.32 C347.72,568.25 348.91,569.32 349.90,569.84 C350.90,570.36 352.02,571.44 352.90,571.44 C353.77,571.44 354.42,570.36 355.14,569.84 C355.87,569.32 356.55,568.81 357.24,568.32 C357.92,567.83 358.63,567.09 359.26,566.90 C359.88,566.71 360.48,566.45 360.98,567.17 C361.48,567.88 362.01,569.62 362.25,571.18 C362.49,572.73 362.65,575.04 362.40,576.52 C362.15,578.01 361.33,579.04 360.75,580.08 C360.18,581.12 359.64,581.79 358.96,582.76 C358.27,583.72 357.35,585.01 356.64,585.87 C355.93,586.74 355.74,587.76 354.69,587.92 C353.65,588.09 351.52,587.57 350.35,586.85 C349.18,586.14 348.52,584.85 347.66,583.65 C346.80,582.44 345.75,581.12 345.19,579.64 C344.63,578.15 344.32,576.30 344.29,574.74 C344.27,573.18 344.60,571.35 345.04,570.28 C345.48,569.22 346.10,568.40 346.91,568.32Z" fill="#fbf8f7" filter="url(#jag2)"/><path d="M324.65,585.43 C325.19,583.02 326.20,581.81 327.45,580.97 C328.70,580.14 330.26,580.42 332.13,580.42 C334.00,580.42 336.81,580.14 338.68,580.97 C340.55,581.81 342.11,583.57 343.35,585.43 C344.60,587.29 345.85,589.70 346.16,592.11 C346.47,594.52 346.16,597.77 345.23,599.91 C344.29,602.04 342.58,604.03 340.55,604.92 C338.52,605.81 335.25,605.71 333.06,605.25 C330.88,604.79 328.93,603.77 327.45,602.13 C325.97,600.50 324.65,598.24 324.18,595.45 C323.71,592.67 324.10,587.84 324.65,585.43Z" fill="#f3e9e4" filter="url(#b1)"/><g transform="translate(315.5,573) scale(0.1923,0.1559)" filter="url(#b2)"><rect x="-2" y="-2" width="109.3" height="89.0" fill="#e2c2ae"/><ellipse cx="46" cy="42" rx="36" ry="27" fill="#f0e7e3" filter="url(#b6)"/><ellipse cx="30" cy="5" rx="36" ry="9" fill="#d09878" filter="url(#b2)"/><ellipse cx="8" cy="12" rx="14" ry="12" fill="#d5a080" filter="url(#b2)"/><ellipse cx="3" cy="30" rx="5" ry="30" fill="#d8a688" filter="url(#b2)"/><ellipse cx="88" cy="14" rx="18" ry="14" fill="#cf926c" filter="url(#b4)"/><ellipse cx="94" cy="60" rx="14" ry="24" fill="#cc8c64" filter="url(#b4)"/><ellipse cx="30" cy="76" rx="14" ry="11" fill="#c27c52" filter="url(#b2)"/><ellipse cx="66" cy="76" rx="15" ry="10" fill="#f1eef0" filter="url(#b2)"/><ellipse cx="26" cy="47" rx="3.2" ry="3.2" fill="#b37251" filter="url(#b05)"/><ellipse cx="26" cy="47" rx="1.3" ry="1.3" fill="#e8d0c4"/><path d="M86,18 C84,30 86,45 80,58 C78,66 82,74 80,86" stroke="#f6efec" stroke-width="1.4" fill="none"/><path d="M70,8 C78,14 88,22 106,24" stroke="#f3e8e2" stroke-width="1.2" fill="none"/></g><rect x="315.5" y="573" width="20.25" height="13.25" fill="#ffffff" opacity="0.22"/><rect x="303.0" y="540.0" width="91.0" height="79.5" filter="url(#spB)" opacity="0.12"/></g>
<clipPath id="zb3"><path d="M420.50,579.49 C420.82,576.32 421.29,571.27 422.39,568.28 C423.50,565.29 425.39,563.42 427.12,561.56 C428.86,559.69 430.44,558.38 432.80,557.07 C435.17,555.76 438.01,554.64 441.32,553.71 C444.63,552.78 449.83,552.12 452.67,551.47 C455.51,550.81 456.77,550.35 458.35,549.79 C459.93,549.23 460.87,548.95 462.13,548.10 C463.40,547.26 464.34,545.58 465.92,544.74 C467.50,543.90 469.70,543.43 471.60,543.06 C473.49,542.69 475.07,542.59 477.27,542.50 C479.48,542.41 482.64,542.31 484.84,542.50 C487.05,542.69 488.94,543.15 490.52,543.62 C492.10,544.09 493.04,544.56 494.31,545.30 C495.57,546.05 496.83,547.26 498.09,548.10 C499.35,548.95 500.93,549.41 501.88,550.35 C502.82,551.28 502.98,552.21 503.77,553.71 C504.56,555.20 505.90,557.26 506.61,559.31 C507.32,561.37 507.71,563.61 508.03,566.04 C508.34,568.47 508.42,571.64 508.50,573.89 C508.58,576.13 508.66,577.62 508.50,579.49 C508.34,581.36 508.03,583.23 507.55,585.10 C507.08,586.96 506.61,589.02 505.66,590.70 C504.72,592.38 503.14,594.06 501.88,595.18 C500.61,596.31 499.67,596.77 498.09,597.43 C496.51,598.08 494.31,598.73 492.41,599.11 C490.52,599.48 488.63,599.76 486.74,599.67 C484.84,599.57 482.64,598.92 481.06,598.55 C479.48,598.17 478.54,597.24 477.27,597.43 C476.01,597.61 474.44,598.73 473.49,599.67 C472.54,600.60 472.39,601.72 471.60,603.03 C470.81,604.34 469.70,606.21 468.76,607.51 C467.81,608.82 467.34,609.57 465.92,610.88 C464.50,612.19 462.13,614.24 460.24,615.36 C458.35,616.48 456.77,617.08 454.56,617.60 C452.36,618.13 449.52,618.41 446.99,618.50 C444.47,618.59 441.63,618.69 439.42,618.16 C437.22,617.64 435.64,616.58 433.75,615.36 C431.85,614.15 429.65,612.56 428.07,610.88 C426.49,609.20 425.23,607.14 424.28,605.27 C423.34,603.40 422.94,601.54 422.39,599.67 C421.84,597.80 421.29,596.12 420.97,594.06 C420.66,592.01 420.58,589.77 420.50,587.34 C420.42,584.91 420.18,582.67 420.50,579.49Z"/></clipPath>
<path d="M420.50,579.49 C420.82,576.32 421.29,571.27 422.39,568.28 C423.50,565.29 425.39,563.42 427.12,561.56 C428.86,559.69 430.44,558.38 432.80,557.07 C435.17,555.76 438.01,554.64 441.32,553.71 C444.63,552.78 449.83,552.12 452.67,551.47 C455.51,550.81 456.77,550.35 458.35,549.79 C459.93,549.23 460.87,548.95 462.13,548.10 C463.40,547.26 464.34,545.58 465.92,544.74 C467.50,543.90 469.70,543.43 471.60,543.06 C473.49,542.69 475.07,542.59 477.27,542.50 C479.48,542.41 482.64,542.31 484.84,542.50 C487.05,542.69 488.94,543.15 490.52,543.62 C492.10,544.09 493.04,544.56 494.31,545.30 C495.57,546.05 496.83,547.26 498.09,548.10 C499.35,548.95 500.93,549.41 501.88,550.35 C502.82,551.28 502.98,552.21 503.77,553.71 C504.56,555.20 505.90,557.26 506.61,559.31 C507.32,561.37 507.71,563.61 508.03,566.04 C508.34,568.47 508.42,571.64 508.50,573.89 C508.58,576.13 508.66,577.62 508.50,579.49 C508.34,581.36 508.03,583.23 507.55,585.10 C507.08,586.96 506.61,589.02 505.66,590.70 C504.72,592.38 503.14,594.06 501.88,595.18 C500.61,596.31 499.67,596.77 498.09,597.43 C496.51,598.08 494.31,598.73 492.41,599.11 C490.52,599.48 488.63,599.76 486.74,599.67 C484.84,599.57 482.64,598.92 481.06,598.55 C479.48,598.17 478.54,597.24 477.27,597.43 C476.01,597.61 474.44,598.73 473.49,599.67 C472.54,600.60 472.39,601.72 471.60,603.03 C470.81,604.34 469.70,606.21 468.76,607.51 C467.81,608.82 467.34,609.57 465.92,610.88 C464.50,612.19 462.13,614.24 460.24,615.36 C458.35,616.48 456.77,617.08 454.56,617.60 C452.36,618.13 449.52,618.41 446.99,618.50 C444.47,618.59 441.63,618.69 439.42,618.16 C437.22,617.64 435.64,616.58 433.75,615.36 C431.85,614.15 429.65,612.56 428.07,610.88 C426.49,609.20 425.23,607.14 424.28,605.27 C423.34,603.40 422.94,601.54 422.39,599.67 C421.84,597.80 421.29,596.12 420.97,594.06 C420.66,592.01 420.58,589.77 420.50,587.34 C420.42,584.91 420.18,582.67 420.50,579.49Z" fill="#efe6e2"/>
<g clip-path="url(#zb3)"><path d="M420.50,579.49 C420.82,576.32 421.29,571.27 422.39,568.28 C423.50,565.29 425.39,563.42 427.12,561.56 C428.86,559.69 430.44,558.38 432.80,557.07 C435.17,555.76 438.01,554.64 441.32,553.71 C444.63,552.78 449.83,552.12 452.67,551.47 C455.51,550.81 456.77,550.35 458.35,549.79 C459.93,549.23 460.87,548.95 462.13,548.10 C463.40,547.26 464.34,545.58 465.92,544.74 C467.50,543.90 469.70,543.43 471.60,543.06 C473.49,542.69 475.07,542.59 477.27,542.50 C479.48,542.41 482.64,542.31 484.84,542.50 C487.05,542.69 488.94,543.15 490.52,543.62 C492.10,544.09 493.04,544.56 494.31,545.30 C495.57,546.05 496.83,547.26 498.09,548.10 C499.35,548.95 500.93,549.41 501.88,550.35 C502.82,551.28 502.98,552.21 503.77,553.71 C504.56,555.20 505.90,557.26 506.61,559.31 C507.32,561.37 507.71,563.61 508.03,566.04 C508.34,568.47 508.42,571.64 508.50,573.89 C508.58,576.13 508.66,577.62 508.50,579.49 C508.34,581.36 508.03,583.23 507.55,585.10 C507.08,586.96 506.61,589.02 505.66,590.70 C504.72,592.38 503.14,594.06 501.88,595.18 C500.61,596.31 499.67,596.77 498.09,597.43 C496.51,598.08 494.31,598.73 492.41,599.11 C490.52,599.48 488.63,599.76 486.74,599.67 C484.84,599.57 482.64,598.92 481.06,598.55 C479.48,598.17 478.54,597.24 477.27,597.43 C476.01,597.61 474.44,598.73 473.49,599.67 C472.54,600.60 472.39,601.72 471.60,603.03 C470.81,604.34 469.70,606.21 468.76,607.51 C467.81,608.82 467.34,609.57 465.92,610.88 C464.50,612.19 462.13,614.24 460.24,615.36 C458.35,616.48 456.77,617.08 454.56,617.60 C452.36,618.13 449.52,618.41 446.99,618.50 C444.47,618.59 441.63,618.69 439.42,618.16 C437.22,617.64 435.64,616.58 433.75,615.36 C431.85,614.15 429.65,612.56 428.07,610.88 C426.49,609.20 425.23,607.14 424.28,605.27 C423.34,603.40 422.94,601.54 422.39,599.67 C421.84,597.80 421.29,596.12 420.97,594.06 C420.66,592.01 420.58,589.77 420.50,587.34 C420.42,584.91 420.18,582.67 420.50,579.49Z" fill="none" stroke="#e6d3c8" stroke-width="1.6" filter="url(#b05)"/><ellipse cx="490.5" cy="570.5" rx="20.8" ry="26.9" fill="#f5f2f2" filter="url(#b4)" opacity="1"/><ellipse cx="447.0" cy="597.4" rx="24.6" ry="21.3" fill="#e8d6cb" filter="url(#b4)" opacity="1"/><ellipse cx="447.0" cy="595.2" rx="22.7" ry="19.1" fill="none" filter="url(#b05)" opacity="1" stroke="#e2c8b8" stroke-width="1.4"/><ellipse cx="469.7" cy="572.8" rx="9.5" ry="10.1" fill="#eee2da" filter="url(#b2)" opacity="1"/><path d="M456.46,569.40 C456.85,567.16 459.45,566.41 461.19,566.04 C462.92,565.67 465.13,566.69 466.87,567.16 C468.60,567.63 470.18,569.03 471.60,568.84 C473.02,568.66 474.15,566.60 475.38,566.04 C476.61,565.48 478.03,564.73 478.98,565.48 C479.92,566.23 480.87,568.19 481.06,570.52 C481.25,572.86 480.74,577.06 480.11,579.49 C479.48,581.92 478.54,583.23 477.27,585.10 C476.01,586.96 474.23,588.59 472.54,590.70 C470.86,592.81 468.65,597.95 467.15,597.76 C465.65,597.58 464.94,592.62 463.55,589.58 C462.17,586.53 460.01,582.85 458.82,579.49 C457.64,576.13 456.06,571.64 456.46,569.40Z" fill="#f7f3f2" filter="url(#b1)"/><path d="M440.37,586.22 C440.92,583.79 441.95,582.57 443.21,581.73 C444.47,580.89 446.05,581.17 447.94,581.17 C449.83,581.17 452.67,580.89 454.56,581.73 C456.46,582.57 458.03,584.35 459.30,586.22 C460.56,588.09 461.82,590.51 462.13,592.94 C462.45,595.37 462.13,598.64 461.19,600.79 C460.24,602.94 458.51,604.94 456.46,605.83 C454.41,606.73 451.09,606.64 448.89,606.17 C446.68,605.70 444.71,604.68 443.21,603.03 C441.71,601.39 440.37,599.11 439.90,596.31 C439.42,593.50 439.82,588.65 440.37,586.22Z" fill="#f3ebe7" filter="url(#b1)"/><g transform="translate(437,565.8) scale(0.1994,0.1612)" filter="url(#b2)"><rect x="-2" y="-2" width="109.3" height="89.0" fill="#ede2dc"/><ellipse cx="30" cy="45" rx="30" ry="35" fill="#eee6e2" filter="url(#b6)"/><path d="M2,14 C15,6 35,4 58,10" stroke="#e2c3b0" stroke-width="5" fill="none" filter="url(#b2)"/><path d="M48,30 C56,26 64,30 76,40" stroke="#dcb194" stroke-width="5" fill="none" filter="url(#b2)"/><path d="M68,8 C82,14 92,24 96,36 C100,48 98,60 94,70" stroke="#d49e7c" stroke-width="4" fill="none" filter="url(#b1)"/><ellipse cx="96" cy="54" rx="10" ry="12" fill="#d7a482" filter="url(#b4)"/><ellipse cx="80" cy="28" rx="10" ry="10" fill="#e0bca2" filter="url(#b4)"/><ellipse cx="101" cy="8" rx="8" ry="10" fill="#f6f2f2" filter="url(#b2)"/><path d="M45,86 C52,74 58,62 66,48 C68,44 70,40 72,36" stroke="#f7f1ef" stroke-width="1.5" fill="none" filter="url(#b1)"/></g><rect x="437" y="565.8" width="21.00" height="13.70" fill="#ffffff" opacity="0.22"/><rect x="418.5" y="540.5" width="92.0" height="80.0" filter="url(#spB)" opacity="0.08"/></g>
<line x1="76.2" y1="422.7" x2="65.5" y2="446.3" stroke="#1e1a1e" stroke-width="1.1"/>
<line x1="103.6" y1="422.7" x2="170.8" y2="446.3" stroke="#1e1a1e" stroke-width="1.1"/>
<rect x="76.2" y="402" width="27.40" height="20.70" fill="none" stroke="#1e1a1e" stroke-width="1.1"/>
<line x1="194.25" y1="426.25" x2="183.7" y2="446.3" stroke="#1e1a1e" stroke-width="1.1"/>
<line x1="221.25" y1="426.25" x2="288.6" y2="446.3" stroke="#1e1a1e" stroke-width="1.1"/>
<rect x="194.25" y="406.25" width="27.00" height="20.00" fill="none" stroke="#1e1a1e" stroke-width="1.1"/>
<line x1="308.25" y1="426.25" x2="297.5" y2="446.3" stroke="#1e1a1e" stroke-width="1.1"/>
<line x1="335.75" y1="426.25" x2="402.5" y2="446.3" stroke="#1e1a1e" stroke-width="1.1"/>
<rect x="308.25" y="406.25" width="27.50" height="20.00" fill="none" stroke="#1e1a1e" stroke-width="1.1"/>
<line x1="423.4" y1="426.5" x2="412.9" y2="446.3" stroke="#1e1a1e" stroke-width="1.1"/>
<line x1="450.8" y1="426.5" x2="517.8" y2="446.3" stroke="#1e1a1e" stroke-width="1.1"/>
<rect x="423.4" y="406.1" width="27.40" height="20.40" fill="none" stroke="#1e1a1e" stroke-width="1.1"/>
<line x1="86.5" y1="576.7" x2="65.5" y2="632" stroke="#1e1a1e" stroke-width="1.1"/>
<line x1="106" y1="576.7" x2="170.8" y2="632" stroke="#1e1a1e" stroke-width="1.1"/>
<rect x="86.5" y="564.2" width="19.50" height="12.50" fill="none" stroke="#1e1a1e" stroke-width="1.1"/>
<line x1="207.5" y1="581.25" x2="183.7" y2="632" stroke="#1e1a1e" stroke-width="1.1"/>
<line x1="228" y1="581.25" x2="288.6" y2="632" stroke="#1e1a1e" stroke-width="1.1"/>
<rect x="207.5" y="568" width="20.50" height="13.25" fill="none" stroke="#1e1a1e" stroke-width="1.1"/>
<line x1="315.5" y1="586.25" x2="297.5" y2="632" stroke="#1e1a1e" stroke-width="1.1"/>
<line x1="335.75" y1="586.25" x2="402.5" y2="632" stroke="#1e1a1e" stroke-width="1.1"/>
<rect x="315.5" y="573" width="20.25" height="13.25" fill="none" stroke="#1e1a1e" stroke-width="1.1"/>
<line x1="437" y1="579.5" x2="412.9" y2="632" stroke="#1e1a1e" stroke-width="1.1"/>
<line x1="458" y1="579.5" x2="517.8" y2="632" stroke="#1e1a1e" stroke-width="1.1"/>
<rect x="437" y="565.8" width="21.00" height="13.70" fill="none" stroke="#1e1a1e" stroke-width="1.1"/>
<clipPath id="bx00"><rect x="65.5" y="446.3" width="105.30" height="85.00"/></clipPath><g clip-path="url(#bx00)"><g transform="translate(65.5,446.3)"><rect x="-2" y="-2" width="109.3" height="89.0" fill="#c9aad3"/><ellipse cx="40" cy="52" rx="30" ry="27" fill="#dbc0de" filter="url(#b6)"/><ellipse cx="40" cy="52" rx="14" ry="12" fill="#dfc6e0" filter="url(#b4)"/><ellipse cx="6" cy="62" rx="9" ry="30" fill="#b297c9" filter="url(#b4)"/><ellipse cx="50" cy="88" rx="45" ry="8" fill="#b79bcd" filter="url(#b4)"/><ellipse cx="90" cy="35" rx="18" ry="28" fill="#c4a4d0" filter="url(#b6)"/><ellipse cx="30" cy="8" rx="28" ry="10" fill="#c9b0d8" filter="url(#b4)"/><ellipse cx="62" cy="45" rx="7" ry="5.5" fill="#9c74b4" filter="url(#b1)"/><ellipse cx="50" cy="56" rx="2" ry="3" fill="#a080bb" filter="url(#b05)"/><path d="M46,0 C50,10 54,25 55,40" stroke="#a583bb" stroke-width="0.5" fill="none"/><rect x="0" y="0" width="105.3" height="85.0" filter="url(#spP)" opacity="0.7"/><rect x="0" y="0" width="105.3" height="85.0" filter="url(#spW)" opacity="0.22"/><rect x="0" y="0" width="105.3" height="85.0" filter="url(#mP)" opacity="0.35"/><rect x="0" y="0" width="105.3" height="85.0" filter="url(#mW)" opacity="0.3"/></g></g><rect x="65.5" y="446.3" width="105.30" height="85.00" fill="none" stroke="#1e1a1e" stroke-width="1.3"/>
<clipPath id="bx01"><rect x="183.7" y="446.3" width="104.90" height="85.00"/></clipPath><g clip-path="url(#bx01)"><g transform="translate(183.7,446.3)"><rect x="-2" y="-2" width="109.3" height="89.0" fill="#dcaa8a"/><ellipse cx="82" cy="42" rx="24" ry="30" fill="#cb8b67" filter="url(#b6)"/><ellipse cx="70" cy="62" rx="18" ry="8" fill="#cf9170" filter="url(#b4)"/><ellipse cx="62" cy="70" rx="20" ry="8" fill="#d49b7a" filter="url(#b4)"/><ellipse cx="50" cy="6" rx="10" ry="7" fill="#e4c0aa" filter="url(#b4)"/><path d="M22,4 C32,1 42,3 45,16 C46,32 47,48 53,58 C57,66 55,72 47,75 C37,78 26,74 18,66 C11,56 9,40 11,26 C12,16 16,8 22,4Z" fill="#f3e9e6" filter="url(#jag)"/><ellipse cx="4" cy="40" rx="5" ry="38" fill="#e0b498" filter="url(#b2)"/><ellipse cx="98" cy="80" rx="14" ry="10" fill="#ebd5c8" filter="url(#b4)"/><ellipse cx="12" cy="85" rx="26" ry="9" fill="#efe3dc" filter="url(#b2)"/><rect x="0" y="0" width="105.3" height="85.0" filter="url(#spB)" opacity="0.6"/><rect x="0" y="0" width="105.3" height="85.0" filter="url(#spW)" opacity="0.22"/><rect x="0" y="0" width="105.3" height="85.0" filter="url(#mB)" opacity="0.35"/><rect x="0" y="0" width="105.3" height="85.0" filter="url(#mW)" opacity="0.3"/><path d="M22,4 C32,1 42,3 45,16 C46,32 47,48 53,58 C57,66 55,72 47,75 C37,78 26,74 18,66 C11,56 9,40 11,26 C12,16 16,8 22,4Z" fill="#f3e9e6" filter="url(#jag)" opacity="0.6"/></g></g><rect x="183.7" y="446.3" width="104.90" height="85.00" fill="none" stroke="#1e1a1e" stroke-width="1.3"/>
<clipPath id="bx02"><rect x="297.5" y="446.3" width="105.00" height="85.00"/></clipPath><g clip-path="url(#bx02)"><g transform="translate(297.5,446.3)"><rect x="-2" y="-2" width="109.3" height="89.0" fill="#cf9470"/><ellipse cx="80" cy="42" rx="27" ry="34" fill="#bf774d" filter="url(#b6)"/><path d="M13,-2 C30,-4 46,0 48,20 C50,38 52,54 49,64 C43,72 30,72 20,65 C12,56 10,38 11,22 C11,10 12,3 13,-2Z" fill="#f5ece9" filter="url(#jag)"/><ellipse cx="5" cy="58" rx="7" ry="16" fill="#b06c46" filter="url(#b2)"/><ellipse cx="36" cy="79" rx="9" ry="4" fill="#c4835e" filter="url(#b2)"/><ellipse cx="56" cy="51" rx="2.5" ry="2" fill="#a86a45" filter="url(#b05)"/><rect x="0" y="0" width="105.3" height="85.0" filter="url(#spB)" opacity="0.6"/><rect x="0" y="0" width="105.3" height="85.0" filter="url(#spW)" opacity="0.22"/><rect x="0" y="0" width="105.3" height="85.0" filter="url(#mB)" opacity="0.35"/><rect x="0" y="0" width="105.3" height="85.0" filter="url(#mW)" opacity="0.3"/><path d="M13,-2 C30,-4 46,0 48,20 C50,38 52,54 49,64 C43,72 30,72 20,65 C12,56 10,38 11,22 C11,10 12,3 13,-2Z" fill="#f5ece9" filter="url(#jag)" opacity="0.6"/></g></g><rect x="297.5" y="446.3" width="105.00" height="85.00" fill="none" stroke="#1e1a1e" stroke-width="1.3"/>
<clipPath id="bx03"><rect x="412.9" y="446.3" width="104.90" height="85.00"/></clipPath><g clip-path="url(#bx03)"><g transform="translate(412.9,446.3)"><rect x="-2" y="-2" width="109.3" height="89.0" fill="#f1e7e2"/><ellipse cx="84" cy="20" rx="26" ry="24" fill="#e3baa0" filter="url(#b6)"/><ellipse cx="78" cy="46" rx="15" ry="14" fill="#e6c3ab" filter="url(#b4)"/><ellipse cx="7" cy="65" rx="8" ry="13" fill="#dbb08f" filter="url(#b2)"/><ellipse cx="55" cy="80" rx="35" ry="9" fill="#ecd5c6" filter="url(#b4)"/><ellipse cx="30" cy="32" rx="25" ry="26" fill="#f5efed" filter="url(#b6)"/><rect x="0" y="0" width="105.3" height="85.0" filter="url(#spB)" opacity="0.35"/><rect x="0" y="0" width="105.3" height="85.0" filter="url(#spW)" opacity="0.22"/><rect x="0" y="0" width="105.3" height="85.0" filter="url(#mB)" opacity="0.35"/><rect x="0" y="0" width="105.3" height="85.0" filter="url(#mW)" opacity="0.3"/><ellipse cx="30" cy="32" rx="22" ry="24" fill="#f5efed" filter="url(#b6)" opacity="0.5"/></g></g><rect x="412.9" y="446.3" width="104.90" height="85.00" fill="none" stroke="#1e1a1e" stroke-width="1.3"/>
<clipPath id="bx10"><rect x="65.5" y="632" width="105.30" height="84.80"/></clipPath><g clip-path="url(#bx10)"><g transform="translate(65.5,632)"><rect x="-2" y="-2" width="109.3" height="89.0" fill="#bf92c5"/><path d="M-5,-5 L60,-5 C50,10 35,25 25,40 C18,55 14,70 12,90 L-5,90Z" fill="#d59dc9" filter="url(#b6)"/><ellipse cx="55" cy="50" rx="25" ry="26" fill="#b68ac0" filter="url(#b6)"/><ellipse cx="92" cy="14" rx="8" ry="8" fill="#d77394" filter="url(#b2)" transform="rotate(-30 92 14)"/><ellipse cx="83" cy="31" rx="8" ry="4.5" fill="#d47896" filter="url(#b2)" transform="rotate(-30 83 31)"/><ellipse cx="70" cy="42" rx="8" ry="4" fill="#cf7f9c" filter="url(#b2)" transform="rotate(-40 70 42)"/><ellipse cx="60" cy="62" rx="5" ry="8" fill="#cf7e9e" filter="url(#b2)"/><ellipse cx="50" cy="80" rx="6" ry="8" fill="#d27a9b" filter="url(#b2)"/><ellipse cx="92" cy="76" rx="14" ry="9" fill="#b389c2" filter="url(#b2)"/><path d="M60,86 L64,80 L70,76 L74,71 L82,67 L88,62 L96,60 L106,54" stroke="#f4eef4" stroke-width="1.3" fill="none" filter="url(#jag2)"/><path d="M72,86 L78,80 L86,76 L94,73 L106,70" stroke="#ece0ec" stroke-width="0.9" fill="none" filter="url(#jag2)"/><rect x="0" y="0" width="105.3" height="85.0" filter="url(#spP)" opacity="0.7"/><rect x="0" y="0" width="105.3" height="85.0" filter="url(#spW)" opacity="0.22"/><rect x="0" y="0" width="105.3" height="85.0" filter="url(#mP)" opacity="0.35"/><rect x="0" y="0" width="105.3" height="85.0" filter="url(#mW)" opacity="0.3"/></g></g><rect x="65.5" y="632" width="105.30" height="84.80" fill="none" stroke="#1e1a1e" stroke-width="1.3"/>
<clipPath id="bx11"><rect x="183.7" y="632" width="104.90" height="84.80"/></clipPath><g clip-path="url(#bx11)"><g transform="translate(183.7,632)"><rect x="-2" y="-2" width="109.3" height="89.0" fill="#e9e5e5"/><ellipse cx="86" cy="62" rx="22" ry="24" fill="#e0dce4" filter="url(#b4)"/><ellipse cx="30" cy="30" rx="30" ry="25" fill="#ebe8ea" filter="url(#b6)"/><path d="M28,86 C38,70 52,56 72,44 C84,38 95,36 106,30" stroke="#f8f6f6" stroke-width="2.5" fill="none" filter="url(#b05)"/><path d="M40,86 C46,76 52,68 60,62" stroke="#f6f4f4" stroke-width="1.5" fill="none" filter="url(#b05)"/><path d="M98,0 L106,0 L106,10Z" fill="#fff"/><rect x="0" y="0" width="105.3" height="85.0" filter="url(#spP)" opacity="0.18"/><rect x="0" y="0" width="105.3" height="85.0" filter="url(#spW)" opacity="0.22"/><rect x="0" y="0" width="105.3" height="85.0" filter="url(#mP)" opacity="0.12"/><rect x="0" y="0" width="105.3" height="85.0" filter="url(#mW)" opacity="0.3"/></g></g><rect x="183.7" y="632" width="104.90" height="84.80" fill="none" stroke="#1e1a1e" stroke-width="1.3"/>
<clipPath id="bx12"><rect x="297.5" y="632" width="105.00" height="84.80"/></clipPath><g clip-path="url(#bx12)"><g transform="translate(297.5,632)"><rect x="-2" y="-2" width="109.3" height="89.0" fill="#e2c2ae"/><ellipse cx="46" cy="42" rx="36" ry="27" fill="#f0e7e3" filter="url(#b6)"/><ellipse cx="30" cy="5" rx="36" ry="9" fill="#d09878" filter="url(#b2)"/><ellipse cx="8" cy="12" rx="14" ry="12" fill="#d5a080" filter="url(#b2)"/><ellipse cx="3" cy="30" rx="5" ry="30" fill="#d8a688" filter="url(#b2)"/><ellipse cx="88" cy="14" rx="18" ry="14" fill="#cf926c" filter="url(#b4)"/><ellipse cx="94" cy="60" rx="14" ry="24" fill="#cc8c64" filter="url(#b4)"/><ellipse cx="30" cy="76" rx="14" ry="11" fill="#c27c52" filter="url(#b2)"/><ellipse cx="66" cy="76" rx="15" ry="10" fill="#f1eef0" filter="url(#b2)"/><ellipse cx="26" cy="47" rx="3.2" ry="3.2" fill="#b37251" filter="url(#b05)"/><ellipse cx="26" cy="47" rx="1.3" ry="1.3" fill="#e8d0c4"/><path d="M86,18 C84,30 86,45 80,58 C78,66 82,74 80,86" stroke="#f6efec" stroke-width="1.4" fill="none"/><path d="M70,8 C78,14 88,22 106,24" stroke="#f3e8e2" stroke-width="1.2" fill="none"/><rect x="0" y="0" width="105.3" height="85.0" filter="url(#spB)" opacity="0.5"/><rect x="0" y="0" width="105.3" height="85.0" filter="url(#spW)" opacity="0.22"/><rect x="0" y="0" width="105.3" height="85.0" filter="url(#mB)" opacity="0.35"/><rect x="0" y="0" width="105.3" height="85.0" filter="url(#mW)" opacity="0.3"/><ellipse cx="46" cy="42" rx="30" ry="22" fill="#f0e7e3" filter="url(#b6)" opacity="0.5"/><ellipse cx="66" cy="76" rx="12" ry="8" fill="#f1eef0" filter="url(#b2)" opacity="0.6"/></g></g><rect x="297.5" y="632" width="105.00" height="84.80" fill="none" stroke="#1e1a1e" stroke-width="1.3"/>
<clipPath id="bx13"><rect x="412.9" y="632" width="104.90" height="84.80"/></clipPath><g clip-path="url(#bx13)"><g transform="translate(412.9,632)"><rect x="-2" y="-2" width="109.3" height="89.0" fill="#ede2dc"/><ellipse cx="30" cy="45" rx="30" ry="35" fill="#eee6e2" filter="url(#b6)"/><path d="M2,14 C15,6 35,4 58,10" stroke="#e2c3b0" stroke-width="5" fill="none" filter="url(#b2)"/><path d="M48,30 C56,26 64,30 76,40" stroke="#dcb194" stroke-width="5" fill="none" filter="url(#b2)"/><path d="M68,8 C82,14 92,24 96,36 C100,48 98,60 94,70" stroke="#d49e7c" stroke-width="4" fill="none" filter="url(#b1)"/><ellipse cx="96" cy="54" rx="10" ry="12" fill="#d7a482" filter="url(#b4)"/><ellipse cx="80" cy="28" rx="10" ry="10" fill="#e0bca2" filter="url(#b4)"/><ellipse cx="101" cy="8" rx="8" ry="10" fill="#f6f2f2" filter="url(#b2)"/><path d="M45,86 C52,74 58,62 66,48 C68,44 70,40 72,36" stroke="#f7f1ef" stroke-width="1.5" fill="none" filter="url(#jag2)"/><rect x="0" y="0" width="105.3" height="85.0" filter="url(#spB)" opacity="0.32"/><rect x="0" y="0" width="105.3" height="85.0" filter="url(#spW)" opacity="0.22"/><rect x="0" y="0" width="105.3" height="85.0" filter="url(#mB)" opacity="0.35"/><rect x="0" y="0" width="105.3" height="85.0" filter="url(#mW)" opacity="0.3"/><ellipse cx="30" cy="45" rx="26" ry="30" fill="#efe6e2" filter="url(#b6)" opacity="0.4"/></g></g><rect x="412.9" y="632" width="104.90" height="84.80" fill="none" stroke="#1e1a1e" stroke-width="1.3"/>
<text x="2.80" y="14.00" font-size="17" font-weight="bold" font-style="normal" text-anchor="start" >A</text>
<text x="2.80" y="172.60" font-size="17" font-weight="bold" font-style="normal" text-anchor="start" >B</text>
<text x="2.00" y="346.40" font-size="17" font-weight="bold" font-style="normal" text-anchor="start" >C</text>
<line x1="44.30" y1="21.30" x2="44.30" y2="134.50" stroke="#161616" stroke-width="1.3"/>
<line x1="43.70" y1="131.90" x2="209.80" y2="131.90" stroke="#161616" stroke-width="1.3"/>
<line x1="41.70" y1="131.90" x2="44.30" y2="131.90" stroke="#161616" stroke-width="1.2"/>
<line x1="42.70" y1="123.59" x2="44.30" y2="123.59" stroke="#161616" stroke-width="0.9"/>
<line x1="42.70" y1="118.73" x2="44.30" y2="118.73" stroke="#161616" stroke-width="0.9"/>
<line x1="42.70" y1="115.28" x2="44.30" y2="115.28" stroke="#161616" stroke-width="0.9"/>
<line x1="42.70" y1="112.61" x2="44.30" y2="112.61" stroke="#161616" stroke-width="0.9"/>
<line x1="42.70" y1="110.42" x2="44.30" y2="110.42" stroke="#161616" stroke-width="0.9"/>
<line x1="42.70" y1="108.58" x2="44.30" y2="108.58" stroke="#161616" stroke-width="0.9"/>
<line x1="42.70" y1="106.97" x2="44.30" y2="106.97" stroke="#161616" stroke-width="0.9"/>
<line x1="42.70" y1="105.56" x2="44.30" y2="105.56" stroke="#161616" stroke-width="0.9"/>
<text x="36.90" y="134.80" font-size="8.4" font-weight="bold" font-style="normal" text-anchor="end" >10</text>
<text x="37.20" y="131.30" font-size="5.2" font-weight="bold" font-style="normal" text-anchor="start" >5</text>
<line x1="41.70" y1="104.30" x2="44.30" y2="104.30" stroke="#161616" stroke-width="1.2"/>
<line x1="42.70" y1="95.99" x2="44.30" y2="95.99" stroke="#161616" stroke-width="0.9"/>
<line x1="42.70" y1="91.13" x2="44.30" y2="91.13" stroke="#161616" stroke-width="0.9"/>
<line x1="42.70" y1="87.68" x2="44.30" y2="87.68" stroke="#161616" stroke-width="0.9"/>
<line x1="42.70" y1="85.01" x2="44.30" y2="85.01" stroke="#161616" stroke-width="0.9"/>
<line x1="42.70" y1="82.82" x2="44.30" y2="82.82" stroke="#161616" stroke-width="0.9"/>
<line x1="42.70" y1="80.98" x2="44.30" y2="80.98" stroke="#161616" stroke-width="0.9"/>
<line x1="42.70" y1="79.37" x2="44.30" y2="79.37" stroke="#161616" stroke-width="0.9"/>
<line x1="42.70" y1="77.96" x2="44.30" y2="77.96" stroke="#161616" stroke-width="0.9"/>
<text x="36.90" y="107.20" font-size="8.4" font-weight="bold" font-style="normal" text-anchor="end" >10</text>
<text x="37.20" y="103.70" font-size="5.2" font-weight="bold" font-style="normal" text-anchor="start" >6</text>
<line x1="41.70" y1="76.70" x2="44.30" y2="76.70" stroke="#161616" stroke-width="1.2"/>
<line x1="42.70" y1="68.39" x2="44.30" y2="68.39" stroke="#161616" stroke-width="0.9"/>
<line x1="42.70" y1="63.53" x2="44.30" y2="63.53" stroke="#161616" stroke-width="0.9"/>
<line x1="42.70" y1="60.08" x2="44.30" y2="60.08" stroke="#161616" stroke-width="0.9"/>
<line x1="42.70" y1="57.41" x2="44.30" y2="57.41" stroke="#161616" stroke-width="0.9"/>
<line x1="42.70" y1="55.22" x2="44.30" y2="55.22" stroke="#161616" stroke-width="0.9"/>
<line x1="42.70" y1="53.38" x2="44.30" y2="53.38" stroke="#161616" stroke-width="0.9"/>
<line x1="42.70" y1="51.77" x2="44.30" y2="51.77" stroke="#161616" stroke-width="0.9"/>
<line x1="42.70" y1="50.36" x2="44.30" y2="50.36" stroke="#161616" stroke-width="0.9"/>
<text x="36.90" y="79.60" font-size="8.4" font-weight="bold" font-style="normal" text-anchor="end" >10</text>
<text x="37.20" y="76.10" font-size="5.2" font-weight="bold" font-style="normal" text-anchor="start" >7</text>
<line x1="41.70" y1="49.10" x2="44.30" y2="49.10" stroke="#161616" stroke-width="1.2"/>
<line x1="42.70" y1="40.79" x2="44.30" y2="40.79" stroke="#161616" stroke-width="0.9"/>
<line x1="42.70" y1="35.93" x2="44.30" y2="35.93" stroke="#161616" stroke-width="0.9"/>
<line x1="42.70" y1="32.48" x2="44.30" y2="32.48" stroke="#161616" stroke-width="0.9"/>
<line x1="42.70" y1="29.81" x2="44.30" y2="29.81" stroke="#161616" stroke-width="0.9"/>
<line x1="42.70" y1="27.62" x2="44.30" y2="27.62" stroke="#161616" stroke-width="0.9"/>
<line x1="42.70" y1="25.78" x2="44.30" y2="25.78" stroke="#161616" stroke-width="0.9"/>
<line x1="42.70" y1="24.17" x2="44.30" y2="24.17" stroke="#161616" stroke-width="0.9"/>
<line x1="42.70" y1="22.76" x2="44.30" y2="22.76" stroke="#161616" stroke-width="0.9"/>
<text x="36.90" y="52.00" font-size="8.4" font-weight="bold" font-style="normal" text-anchor="end" >10</text>
<text x="37.20" y="48.50" font-size="5.2" font-weight="bold" font-style="normal" text-anchor="start" >8</text>
<line x1="41.70" y1="21.50" x2="44.30" y2="21.50" stroke="#161616" stroke-width="1.2"/>
<text x="36.90" y="24.40" font-size="8.4" font-weight="bold" font-style="normal" text-anchor="end" >10</text>
<text x="37.20" y="20.90" font-size="5.2" font-weight="bold" font-style="normal" text-anchor="start" >9</text>
<line x1="44.30" y1="131.90" x2="44.30" y2="134.50" stroke="#161616" stroke-width="1.2"/>
<text x="44.30" y="144.20" font-size="9.3" font-weight="bold" font-style="normal" text-anchor="middle"  textLength="4.84" lengthAdjust="spacingAndGlyphs">0</text>
<line x1="77.40" y1="131.90" x2="77.40" y2="134.50" stroke="#161616" stroke-width="1.2"/>
<text x="77.40" y="144.20" font-size="9.3" font-weight="bold" font-style="normal" text-anchor="middle"  textLength="9.67" lengthAdjust="spacingAndGlyphs">10</text>
<line x1="110.50" y1="131.90" x2="110.50" y2="134.50" stroke="#161616" stroke-width="1.2"/>
<text x="110.50" y="144.20" font-size="9.3" font-weight="bold" font-style="normal" text-anchor="middle"  textLength="9.67" lengthAdjust="spacingAndGlyphs">20</text>
<line x1="143.60" y1="131.90" x2="143.60" y2="134.50" stroke="#161616" stroke-width="1.2"/>
<text x="143.60" y="144.20" font-size="9.3" font-weight="bold" font-style="normal" text-anchor="middle"  textLength="9.67" lengthAdjust="spacingAndGlyphs">30</text>
<line x1="176.70" y1="131.90" x2="176.70" y2="134.50" stroke="#161616" stroke-width="1.2"/>
<text x="176.70" y="144.20" font-size="9.3" font-weight="bold" font-style="normal" text-anchor="middle"  textLength="9.67" lengthAdjust="spacingAndGlyphs">40</text>
<line x1="209.80" y1="131.90" x2="209.80" y2="134.50" stroke="#161616" stroke-width="1.2"/>
<text x="209.80" y="144.20" font-size="9.3" font-weight="bold" font-style="normal" text-anchor="middle"  textLength="9.67" lengthAdjust="spacingAndGlyphs">50</text>
<text x="127.00" y="158.90" font-size="11.6" font-weight="bold" font-style="normal" text-anchor="middle" >Day</text>
<text transform="translate(21.00,76.70) rotate(-90)" font-size="13.4" font-weight="bold" text-anchor="middle" textLength="118.4" lengthAdjust="spacingAndGlyphs">Total flux (p/sec/cm<tspan font-size="9" dy="-5.6">2</tspan><tspan dy="5.6">)</tspan></text>
<polyline points="100.60,125.50 110.70,116.70 133.40,98.80 146.90,91.50 156.90,81.50 179.50,60.70 193.00,45.50" fill="none" stroke="#161616" stroke-width="1.1"/>
<polyline points="90.90,115.00 97.60,112.00 103.90,106.00 114.00,98.50 127.20,86.00 133.80,73.20 140.00,71.50 146.90,67.00 156.90,53.20 163.50,45.80" fill="none" stroke="#161616" stroke-width="1.1"/>
<polyline points="83.70,116.70 90.50,105.70 100.60,89.00 114.00,73.00 124.10,55.90" fill="none" stroke="#161616" stroke-width="1.1"/>
<polyline points="87.80,106.90 94.50,93.80 103.90,77.70 110.70,71.60" fill="none" stroke="#161616" stroke-width="1.1"/>
<line x1="100.60" y1="123.00" x2="100.60" y2="128.00" stroke="#161616" stroke-width="1.0"/>
<line x1="98.40" y1="123.00" x2="102.80" y2="123.00" stroke="#161616" stroke-width="1.0"/>
<line x1="98.40" y1="128.00" x2="102.80" y2="128.00" stroke="#161616" stroke-width="1.0"/>
<circle cx="100.60" cy="125.50" r="2.25" fill="none" stroke="#161616" stroke-width="1.0"/>
<line x1="110.70" y1="113.20" x2="110.70" y2="120.20" stroke="#161616" stroke-width="1.0"/>
<line x1="108.50" y1="113.20" x2="112.90" y2="113.20" stroke="#161616" stroke-width="1.0"/>
<line x1="108.50" y1="120.20" x2="112.90" y2="120.20" stroke="#161616" stroke-width="1.0"/>
<circle cx="110.70" cy="116.70" r="2.25" fill="none" stroke="#161616" stroke-width="1.0"/>
<line x1="133.40" y1="95.30" x2="133.40" y2="102.30" stroke="#161616" stroke-width="1.0"/>
<line x1="131.20" y1="95.30" x2="135.60" y2="95.30" stroke="#161616" stroke-width="1.0"/>
<line x1="131.20" y1="102.30" x2="135.60" y2="102.30" stroke="#161616" stroke-width="1.0"/>
<circle cx="133.40" cy="98.80" r="2.25" fill="none" stroke="#161616" stroke-width="1.0"/>
<line x1="146.90" y1="87.00" x2="146.90" y2="96.00" stroke="#161616" stroke-width="1.0"/>
<line x1="144.70" y1="87.00" x2="149.10" y2="87.00" stroke="#161616" stroke-width="1.0"/>
<line x1="144.70" y1="96.00" x2="149.10" y2="96.00" stroke="#161616" stroke-width="1.0"/>
<circle cx="146.90" cy="91.50" r="2.25" fill="none" stroke="#161616" stroke-width="1.0"/>
<line x1="156.90" y1="77.00" x2="156.90" y2="86.00" stroke="#161616" stroke-width="1.0"/>
<line x1="154.70" y1="77.00" x2="159.10" y2="77.00" stroke="#161616" stroke-width="1.0"/>
<line x1="154.70" y1="86.00" x2="159.10" y2="86.00" stroke="#161616" stroke-width="1.0"/>
<circle cx="156.90" cy="81.50" r="2.25" fill="none" stroke="#161616" stroke-width="1.0"/>
<line x1="179.50" y1="51.70" x2="179.50" y2="69.70" stroke="#161616" stroke-width="1.0"/>
<line x1="177.30" y1="51.70" x2="181.70" y2="51.70" stroke="#161616" stroke-width="1.0"/>
<line x1="177.30" y1="69.70" x2="181.70" y2="69.70" stroke="#161616" stroke-width="1.0"/>
<circle cx="179.50" cy="60.70" r="2.25" fill="none" stroke="#161616" stroke-width="1.0"/>
<line x1="193.00" y1="35.50" x2="193.00" y2="55.50" stroke="#161616" stroke-width="1.0"/>
<line x1="190.80" y1="35.50" x2="195.20" y2="35.50" stroke="#161616" stroke-width="1.0"/>
<line x1="190.80" y1="55.50" x2="195.20" y2="55.50" stroke="#161616" stroke-width="1.0"/>
<circle cx="193.00" cy="45.50" r="2.25" fill="none" stroke="#161616" stroke-width="1.0"/>
<line x1="90.90" y1="112.00" x2="90.90" y2="118.00" stroke="#161616" stroke-width="1.0"/>
<line x1="88.70" y1="112.00" x2="93.10" y2="112.00" stroke="#161616" stroke-width="1.0"/>
<line x1="88.70" y1="118.00" x2="93.10" y2="118.00" stroke="#161616" stroke-width="1.0"/>
<circle cx="90.90" cy="115.00" r="2.35" fill="#161616"/>
<line x1="97.60" y1="109.00" x2="97.60" y2="115.00" stroke="#161616" stroke-width="1.0"/>
<line x1="95.40" y1="109.00" x2="99.80" y2="109.00" stroke="#161616" stroke-width="1.0"/>
<line x1="95.40" y1="115.00" x2="99.80" y2="115.00" stroke="#161616" stroke-width="1.0"/>
<circle cx="97.60" cy="112.00" r="2.35" fill="#161616"/>
<line x1="103.90" y1="102.50" x2="103.90" y2="109.50" stroke="#161616" stroke-width="1.0"/>
<line x1="101.70" y1="102.50" x2="106.10" y2="102.50" stroke="#161616" stroke-width="1.0"/>
<line x1="101.70" y1="109.50" x2="106.10" y2="109.50" stroke="#161616" stroke-width="1.0"/>
<circle cx="103.90" cy="106.00" r="2.35" fill="#161616"/>
<line x1="114.00" y1="92.50" x2="114.00" y2="104.50" stroke="#161616" stroke-width="1.0"/>
<line x1="111.80" y1="92.50" x2="116.20" y2="92.50" stroke="#161616" stroke-width="1.0"/>
<line x1="111.80" y1="104.50" x2="116.20" y2="104.50" stroke="#161616" stroke-width="1.0"/>
<circle cx="114.00" cy="98.50" r="2.35" fill="#161616"/>
<line x1="127.20" y1="80.50" x2="127.20" y2="91.50" stroke="#161616" stroke-width="1.0"/>
<line x1="125.00" y1="80.50" x2="129.40" y2="80.50" stroke="#161616" stroke-width="1.0"/>
<line x1="125.00" y1="91.50" x2="129.40" y2="91.50" stroke="#161616" stroke-width="1.0"/>
<circle cx="127.20" cy="86.00" r="2.35" fill="#161616"/>
<line x1="133.80" y1="69.20" x2="133.80" y2="77.20" stroke="#161616" stroke-width="1.0"/>
<line x1="131.60" y1="69.20" x2="136.00" y2="69.20" stroke="#161616" stroke-width="1.0"/>
<line x1="131.60" y1="77.20" x2="136.00" y2="77.20" stroke="#161616" stroke-width="1.0"/>
<circle cx="133.80" cy="73.20" r="2.35" fill="#161616"/>
<line x1="140.00" y1="66.50" x2="140.00" y2="76.50" stroke="#161616" stroke-width="1.0"/>
<line x1="137.80" y1="66.50" x2="142.20" y2="66.50" stroke="#161616" stroke-width="1.0"/>
<line x1="137.80" y1="76.50" x2="142.20" y2="76.50" stroke="#161616" stroke-width="1.0"/>
<circle cx="140.00" cy="71.50" r="2.35" fill="#161616"/>
<line x1="146.90" y1="62.00" x2="146.90" y2="72.00" stroke="#161616" stroke-width="1.0"/>
<line x1="144.70" y1="62.00" x2="149.10" y2="62.00" stroke="#161616" stroke-width="1.0"/>
<line x1="144.70" y1="72.00" x2="149.10" y2="72.00" stroke="#161616" stroke-width="1.0"/>
<circle cx="146.90" cy="67.00" r="2.35" fill="#161616"/>
<line x1="156.90" y1="47.20" x2="156.90" y2="59.20" stroke="#161616" stroke-width="1.0"/>
<line x1="154.70" y1="47.20" x2="159.10" y2="47.20" stroke="#161616" stroke-width="1.0"/>
<line x1="154.70" y1="59.20" x2="159.10" y2="59.20" stroke="#161616" stroke-width="1.0"/>
<circle cx="156.90" cy="53.20" r="2.35" fill="#161616"/>
<line x1="163.50" y1="39.10" x2="163.50" y2="52.50" stroke="#161616" stroke-width="1.0"/>
<line x1="161.30" y1="39.10" x2="165.70" y2="39.10" stroke="#161616" stroke-width="1.0"/>
<line x1="161.30" y1="52.50" x2="165.70" y2="52.50" stroke="#161616" stroke-width="1.0"/>
<circle cx="163.50" cy="45.80" r="2.35" fill="#161616"/>
<line x1="83.70" y1="115.20" x2="83.70" y2="118.20" stroke="#161616" stroke-width="1.0"/>
<line x1="81.50" y1="115.20" x2="85.90" y2="115.20" stroke="#161616" stroke-width="1.0"/>
<line x1="81.50" y1="118.20" x2="85.90" y2="118.20" stroke="#161616" stroke-width="1.0"/>
<rect x="81.50" y="114.50" width="4.4" height="4.4" fill="none" stroke="#161616" stroke-width="1.0"/>
<line x1="90.50" y1="103.20" x2="90.50" y2="108.20" stroke="#161616" stroke-width="1.0"/>
<line x1="88.30" y1="103.20" x2="92.70" y2="103.20" stroke="#161616" stroke-width="1.0"/>
<line x1="88.30" y1="108.20" x2="92.70" y2="108.20" stroke="#161616" stroke-width="1.0"/>
<rect x="88.30" y="103.50" width="4.4" height="4.4" fill="none" stroke="#161616" stroke-width="1.0"/>
<line x1="100.60" y1="86.00" x2="100.60" y2="92.00" stroke="#161616" stroke-width="1.0"/>
<line x1="98.40" y1="86.00" x2="102.80" y2="86.00" stroke="#161616" stroke-width="1.0"/>
<line x1="98.40" y1="92.00" x2="102.80" y2="92.00" stroke="#161616" stroke-width="1.0"/>
<rect x="98.40" y="86.80" width="4.4" height="4.4" fill="none" stroke="#161616" stroke-width="1.0"/>
<line x1="114.00" y1="68.50" x2="114.00" y2="77.50" stroke="#161616" stroke-width="1.0"/>
<line x1="111.80" y1="68.50" x2="116.20" y2="68.50" stroke="#161616" stroke-width="1.0"/>
<line x1="111.80" y1="77.50" x2="116.20" y2="77.50" stroke="#161616" stroke-width="1.0"/>
<rect x="111.80" y="70.80" width="4.4" height="4.4" fill="none" stroke="#161616" stroke-width="1.0"/>
<line x1="124.10" y1="50.90" x2="124.10" y2="60.90" stroke="#161616" stroke-width="1.0"/>
<line x1="121.90" y1="50.90" x2="126.30" y2="50.90" stroke="#161616" stroke-width="1.0"/>
<line x1="121.90" y1="60.90" x2="126.30" y2="60.90" stroke="#161616" stroke-width="1.0"/>
<rect x="121.90" y="53.70" width="4.4" height="4.4" fill="none" stroke="#161616" stroke-width="1.0"/>
<line x1="87.80" y1="103.90" x2="87.80" y2="109.90" stroke="#161616" stroke-width="1.0"/>
<line x1="85.60" y1="103.90" x2="90.00" y2="103.90" stroke="#161616" stroke-width="1.0"/>
<line x1="85.60" y1="109.90" x2="90.00" y2="109.90" stroke="#161616" stroke-width="1.0"/>
<rect x="85.60" y="104.70" width="4.4" height="4.4" fill="#161616"/>
<line x1="94.50" y1="88.80" x2="94.50" y2="98.80" stroke="#161616" stroke-width="1.0"/>
<line x1="92.30" y1="88.80" x2="96.70" y2="88.80" stroke="#161616" stroke-width="1.0"/>
<line x1="92.30" y1="98.80" x2="96.70" y2="98.80" stroke="#161616" stroke-width="1.0"/>
<rect x="92.30" y="91.60" width="4.4" height="4.4" fill="#161616"/>
<line x1="103.90" y1="72.70" x2="103.90" y2="82.70" stroke="#161616" stroke-width="1.0"/>
<line x1="101.70" y1="72.70" x2="106.10" y2="72.70" stroke="#161616" stroke-width="1.0"/>
<line x1="101.70" y1="82.70" x2="106.10" y2="82.70" stroke="#161616" stroke-width="1.0"/>
<rect x="101.70" y="75.50" width="4.4" height="4.4" fill="#161616"/>
<line x1="110.70" y1="65.60" x2="110.70" y2="77.60" stroke="#161616" stroke-width="1.0"/>
<line x1="108.50" y1="65.60" x2="112.90" y2="65.60" stroke="#161616" stroke-width="1.0"/>
<line x1="108.50" y1="77.60" x2="112.90" y2="77.60" stroke="#161616" stroke-width="1.0"/>
<rect x="108.50" y="69.40" width="4.4" height="4.4" fill="#161616"/>
<line x1="241.30" y1="22.30" x2="241.30" y2="134.20" stroke="#161616" stroke-width="1.3"/>
<line x1="240.70" y1="131.60" x2="393.80" y2="131.60" stroke="#161616" stroke-width="1.3"/>
<line x1="238.70" y1="131.60" x2="241.30" y2="131.60" stroke="#161616" stroke-width="1.2"/>
<text x="238.00" y="134.80" font-size="9.3" font-weight="bold" font-style="normal" text-anchor="end"  textLength="4.84" lengthAdjust="spacingAndGlyphs">0</text>
<line x1="238.70" y1="81.75" x2="241.30" y2="81.75" stroke="#161616" stroke-width="1.2"/>
<text x="238.00" y="84.95" font-size="9.3" font-weight="bold" font-style="normal" text-anchor="end"  textLength="9.67" lengthAdjust="spacingAndGlyphs">50</text>
<line x1="238.70" y1="31.90" x2="241.30" y2="31.90" stroke="#161616" stroke-width="1.2"/>
<text x="238.00" y="35.10" font-size="9.3" font-weight="bold" font-style="normal" text-anchor="end"  textLength="14.51" lengthAdjust="spacingAndGlyphs">100</text>
<line x1="241.30" y1="131.60" x2="241.30" y2="134.20" stroke="#161616" stroke-width="1.2"/>
<text x="241.30" y="144.20" font-size="9.3" font-weight="bold" font-style="normal" text-anchor="middle"  textLength="4.84" lengthAdjust="spacingAndGlyphs">0</text>
<line x1="292.20" y1="131.60" x2="292.20" y2="134.20" stroke="#161616" stroke-width="1.2"/>
<text x="292.20" y="144.20" font-size="9.3" font-weight="bold" font-style="normal" text-anchor="middle"  textLength="9.67" lengthAdjust="spacingAndGlyphs">20</text>
<line x1="343.10" y1="131.60" x2="343.10" y2="134.20" stroke="#161616" stroke-width="1.2"/>
<text x="343.10" y="144.20" font-size="9.3" font-weight="bold" font-style="normal" text-anchor="middle"  textLength="9.67" lengthAdjust="spacingAndGlyphs">40</text>
<line x1="394.00" y1="131.60" x2="394.00" y2="134.20" stroke="#161616" stroke-width="1.2"/>
<text x="394.00" y="144.20" font-size="9.3" font-weight="bold" font-style="normal" text-anchor="middle"  textLength="9.67" lengthAdjust="spacingAndGlyphs">60</text>
<text x="314.60" y="158.90" font-size="11.6" font-weight="bold" font-style="normal" text-anchor="middle" >Day</text>
<text transform="translate(224.00,77.00) rotate(-90)" font-size="12.8" font-weight="bold" text-anchor="middle" textLength="66" lengthAdjust="spacingAndGlyphs">Survival (%)</text>
<polyline points="241.30,31.90 286.90,31.90 286.90,64.80 292.20,64.80 292.20,131.60" fill="none" stroke="#161616" stroke-width="1.1"/>
<polyline points="241.30,31.90 294.60,31.90 294.60,42.87 302.30,42.87 302.30,64.80 307.80,64.80 307.80,131.60" fill="none" stroke="#161616" stroke-width="1.1"/>
<polyline points="241.30,31.90 307.80,31.90 307.80,48.85 312.50,48.85 312.50,98.70 317.70,98.70 317.70,123.62 330.50,123.62 330.50,131.60" fill="none" stroke="#161616" stroke-width="1.1"/>
<polyline points="241.30,31.90 333.30,31.90 333.30,42.87 355.40,42.87 355.40,98.70 358.00,98.70 358.00,109.67 367.80,109.67 367.80,120.63 386.30,120.63 386.30,131.60" fill="none" stroke="#161616" stroke-width="1.1"/>
<rect x="284.60" y="62.50" width="4.6" height="4.6" fill="#161616"/>
<rect x="289.90" y="129.30" width="4.6" height="4.6" fill="#161616"/>
<rect x="292.30" y="40.57" width="4.6" height="4.6" fill="none" stroke="#161616" stroke-width="1.0"/>
<rect x="300.00" y="62.50" width="4.6" height="4.6" fill="none" stroke="#161616" stroke-width="1.0"/>
<rect x="305.50" y="129.30" width="4.6" height="4.6" fill="none" stroke="#161616" stroke-width="1.0"/>
<circle cx="307.80" cy="48.85" r="2.3" fill="#161616"/>
<circle cx="312.50" cy="98.70" r="2.3" fill="#161616"/>
<circle cx="317.70" cy="123.62" r="2.3" fill="#161616"/>
<circle cx="330.50" cy="131.60" r="2.3" fill="#161616"/>
<circle cx="333.30" cy="42.87" r="2.3" fill="none" stroke="#161616" stroke-width="1.0"/>
<circle cx="355.40" cy="98.70" r="2.3" fill="none" stroke="#161616" stroke-width="1.0"/>
<circle cx="358.00" cy="109.67" r="2.3" fill="none" stroke="#161616" stroke-width="1.0"/>
<circle cx="367.80" cy="120.63" r="2.3" fill="none" stroke="#161616" stroke-width="1.0"/>
<circle cx="386.30" cy="131.60" r="2.3" fill="none" stroke="#161616" stroke-width="1.0"/>
<line x1="358.90" y1="33.30" x2="370.60" y2="33.30" stroke="#161616" stroke-width="1.1"/>
<circle cx="364.80" cy="33.30" r="2.1" fill="none" stroke="#161616" stroke-width="1.0"/>
<text x="377.4" y="38.6" font-size="9.5" font-weight="bold" font-style="italic" textLength="102.3" lengthAdjust="spacingAndGlyphs">p16<tspan font-size="7.2" dy="-3.9">Ink4a</tspan><tspan dy="3.9">/p19</tspan><tspan font-size="7.2" dy="-3.9">Arf</tspan><tspan dy="3.9">;K-Ras</tspan><tspan font-size="7.2" dy="-3.9">v12</tspan></text>
<line x1="358.90" y1="51.60" x2="370.60" y2="51.60" stroke="#161616" stroke-width="1.1"/>
<circle cx="364.80" cy="51.60" r="2.1" fill="#161616"/>
<text x="377.2" y="57.0" font-size="9.5" font-weight="bold" font-style="italic" textLength="121.2" lengthAdjust="spacingAndGlyphs">p53;p16<tspan font-size="7.2" dy="-3.9">Ink4a</tspan><tspan dy="3.9">/p19</tspan><tspan font-size="7.2" dy="-3.9">Arf</tspan><tspan dy="3.9">;K-Ras</tspan><tspan font-size="7.2" dy="-3.9">v12</tspan></text>
<line x1="358.90" y1="69.40" x2="370.60" y2="69.40" stroke="#161616" stroke-width="1.1"/>
<rect x="362.50" y="67.10" width="4.6" height="4.6" fill="none" stroke="#161616" stroke-width="1.0"/>
<text x="377.9" y="74.3" font-size="9.5" font-weight="bold" font-style="italic" textLength="124.4" lengthAdjust="spacingAndGlyphs">Pten;p16<tspan font-size="7.2" dy="-3.9">Ink4a</tspan><tspan dy="3.9">/p19</tspan><tspan font-size="7.2" dy="-3.9">Arf</tspan><tspan dy="3.9">;K-Ras</tspan><tspan font-size="7.2" dy="-3.9">v12</tspan></text>
<line x1="358.90" y1="87.50" x2="370.60" y2="87.50" stroke="#161616" stroke-width="1.1"/>
<rect x="362.50" y="85.20" width="4.6" height="4.6" fill="#161616"/>
<text x="377.1" y="92.4" font-size="9.5" font-weight="bold" font-style="italic" textLength="143.3" lengthAdjust="spacingAndGlyphs">p53;Pten;p16<tspan font-size="7.2" dy="-3.9">Ink4a</tspan><tspan dy="3.9">/p19</tspan><tspan font-size="7.2" dy="-3.9">Arf</tspan><tspan dy="3.9">;K-Ras</tspan><tspan font-size="7.2" dy="-3.9">v12</tspan></text>
<line x1="483.80" y1="30.20" x2="495.20" y2="30.20" stroke="#161616" stroke-width="1.1"/>
<line x1="495.20" y1="30.20" x2="495.20" y2="80.80" stroke="#161616" stroke-width="1.1"/>
<text x="498.00" y="45.00" font-size="12" font-weight="bold" font-style="normal" text-anchor="start"  textLength="14.5" lengthAdjust="spacingAndGlyphs">****</text>
<text x="498.00" y="64.00" font-size="12" font-weight="bold" font-style="normal" text-anchor="start"  textLength="11.5" lengthAdjust="spacingAndGlyphs">***</text>
<text x="498.00" y="82.00" font-size="12" font-weight="bold" font-style="normal" text-anchor="start"  textLength="14.5" lengthAdjust="spacingAndGlyphs">****</text>
<line x1="45.60" y1="187.40" x2="45.60" y2="300.00" stroke="#161616" stroke-width="1.3"/>
<line x1="45.00" y1="298.30" x2="211.00" y2="298.30" stroke="#161616" stroke-width="1.3"/>
<line x1="43.00" y1="298.30" x2="45.60" y2="298.30" stroke="#161616" stroke-width="1.2"/>
<line x1="44.00" y1="290.55" x2="45.60" y2="290.55" stroke="#161616" stroke-width="0.9"/>
<line x1="44.00" y1="286.02" x2="45.60" y2="286.02" stroke="#161616" stroke-width="0.9"/>
<line x1="44.00" y1="282.81" x2="45.60" y2="282.81" stroke="#161616" stroke-width="0.9"/>
<line x1="44.00" y1="280.32" x2="45.60" y2="280.32" stroke="#161616" stroke-width="0.9"/>
<line x1="44.00" y1="278.28" x2="45.60" y2="278.28" stroke="#161616" stroke-width="0.9"/>
<line x1="44.00" y1="276.56" x2="45.60" y2="276.56" stroke="#161616" stroke-width="0.9"/>
<line x1="44.00" y1="275.06" x2="45.60" y2="275.06" stroke="#161616" stroke-width="0.9"/>
<line x1="44.00" y1="273.75" x2="45.60" y2="273.75" stroke="#161616" stroke-width="0.9"/>
<text x="38.20" y="301.20" font-size="8.4" font-weight="bold" font-style="normal" text-anchor="end" >10</text>
<text x="38.50" y="297.70" font-size="5.2" font-weight="bold" font-style="normal" text-anchor="start" >4</text>
<line x1="43.00" y1="272.57" x2="45.60" y2="272.57" stroke="#161616" stroke-width="1.2"/>
<line x1="44.00" y1="264.82" x2="45.60" y2="264.82" stroke="#161616" stroke-width="0.9"/>
<line x1="44.00" y1="260.29" x2="45.60" y2="260.29" stroke="#161616" stroke-width="0.9"/>
<line x1="44.00" y1="257.08" x2="45.60" y2="257.08" stroke="#161616" stroke-width="0.9"/>
<line x1="44.00" y1="254.59" x2="45.60" y2="254.59" stroke="#161616" stroke-width="0.9"/>
<line x1="44.00" y1="252.55" x2="45.60" y2="252.55" stroke="#161616" stroke-width="0.9"/>
<line x1="44.00" y1="250.83" x2="45.60" y2="250.83" stroke="#161616" stroke-width="0.9"/>
<line x1="44.00" y1="249.33" x2="45.60" y2="249.33" stroke="#161616" stroke-width="0.9"/>
<line x1="44.00" y1="248.02" x2="45.60" y2="248.02" stroke="#161616" stroke-width="0.9"/>
<text x="38.20" y="275.47" font-size="8.4" font-weight="bold" font-style="normal" text-anchor="end" >10</text>
<text x="38.50" y="271.97" font-size="5.2" font-weight="bold" font-style="normal" text-anchor="start" >5</text>
<line x1="43.00" y1="246.84" x2="45.60" y2="246.84" stroke="#161616" stroke-width="1.2"/>
<line x1="44.00" y1="239.09" x2="45.60" y2="239.09" stroke="#161616" stroke-width="0.9"/>
<line x1="44.00" y1="234.56" x2="45.60" y2="234.56" stroke="#161616" stroke-width="0.9"/>
<line x1="44.00" y1="231.35" x2="45.60" y2="231.35" stroke="#161616" stroke-width="0.9"/>
<line x1="44.00" y1="228.86" x2="45.60" y2="228.86" stroke="#161616" stroke-width="0.9"/>
<line x1="44.00" y1="226.82" x2="45.60" y2="226.82" stroke="#161616" stroke-width="0.9"/>
<line x1="44.00" y1="225.10" x2="45.60" y2="225.10" stroke="#161616" stroke-width="0.9"/>
<line x1="44.00" y1="223.60" x2="45.60" y2="223.60" stroke="#161616" stroke-width="0.9"/>
<line x1="44.00" y1="222.29" x2="45.60" y2="222.29" stroke="#161616" stroke-width="0.9"/>
<text x="38.20" y="249.74" font-size="8.4" font-weight="bold" font-style="normal" text-anchor="end" >10</text>
<text x="38.50" y="246.24" font-size="5.2" font-weight="bold" font-style="normal" text-anchor="start" >6</text>
<line x1="43.00" y1="221.11" x2="45.60" y2="221.11" stroke="#161616" stroke-width="1.2"/>
<line x1="44.00" y1="213.36" x2="45.60" y2="213.36" stroke="#161616" stroke-width="0.9"/>
<line x1="44.00" y1="208.83" x2="45.60" y2="208.83" stroke="#161616" stroke-width="0.9"/>
<line x1="44.00" y1="205.62" x2="45.60" y2="205.62" stroke="#161616" stroke-width="0.9"/>
<line x1="44.00" y1="203.13" x2="45.60" y2="203.13" stroke="#161616" stroke-width="0.9"/>
<line x1="44.00" y1="201.09" x2="45.60" y2="201.09" stroke="#161616" stroke-width="0.9"/>
<line x1="44.00" y1="199.37" x2="45.60" y2="199.37" stroke="#161616" stroke-width="0.9"/>
<line x1="44.00" y1="197.87" x2="45.60" y2="197.87" stroke="#161616" stroke-width="0.9"/>
<line x1="44.00" y1="196.56" x2="45.60" y2="196.56" stroke="#161616" stroke-width="0.9"/>
<text x="38.20" y="224.01" font-size="8.4" font-weight="bold" font-style="normal" text-anchor="end" >10</text>
<text x="38.50" y="220.51" font-size="5.2" font-weight="bold" font-style="normal" text-anchor="start" >7</text>
<line x1="43.00" y1="195.38" x2="45.60" y2="195.38" stroke="#161616" stroke-width="1.2"/>
<text x="38.20" y="198.28" font-size="8.4" font-weight="bold" font-style="normal" text-anchor="end" >10</text>
<text x="38.50" y="194.78" font-size="5.2" font-weight="bold" font-style="normal" text-anchor="start" >8</text>
<line x1="45.60" y1="298.30" x2="45.60" y2="300.90" stroke="#161616" stroke-width="1.2"/>
<text x="45.60" y="310.70" font-size="9.3" font-weight="bold" font-style="normal" text-anchor="middle"  textLength="4.84" lengthAdjust="spacingAndGlyphs">0</text>
<line x1="97.30" y1="298.30" x2="97.30" y2="300.90" stroke="#161616" stroke-width="1.2"/>
<text x="97.30" y="310.70" font-size="9.3" font-weight="bold" font-style="normal" text-anchor="middle"  textLength="9.67" lengthAdjust="spacingAndGlyphs">10</text>
<line x1="149.00" y1="298.30" x2="149.00" y2="300.90" stroke="#161616" stroke-width="1.2"/>
<text x="149.00" y="310.70" font-size="9.3" font-weight="bold" font-style="normal" text-anchor="middle"  textLength="9.67" lengthAdjust="spacingAndGlyphs">20</text>
<line x1="200.70" y1="298.30" x2="200.70" y2="300.90" stroke="#161616" stroke-width="1.2"/>
<text x="200.70" y="310.70" font-size="9.3" font-weight="bold" font-style="normal" text-anchor="middle"  textLength="9.67" lengthAdjust="spacingAndGlyphs">30</text>
<text x="128.10" y="326.20" font-size="12" font-weight="bold" font-style="normal" text-anchor="middle"  textLength="138" lengthAdjust="spacingAndGlyphs">Days after virus injection</text>
<text transform="translate(20.10,242.40) rotate(-90)" font-size="13.4" font-weight="bold" text-anchor="middle" textLength="118.5" lengthAdjust="spacingAndGlyphs">Total flux (p/sec/cm<tspan font-size="9" dy="-5.6">2</tspan><tspan dy="5.6">)</tspan></text>
<polyline points="97.00,255.50 117.50,230.00 133.75,209.50" fill="none" stroke="#161616" stroke-width="1.1"/>
<circle cx="97.00" cy="255.50" r="1.2" fill="#161616"/>
<circle cx="117.50" cy="230.00" r="1.2" fill="#161616"/>
<circle cx="133.75" cy="209.50" r="1.2" fill="#161616"/>
<polyline points="97.00,282.50 117.50,248.75 133.75,231.25 149.50,220.00 165.00,199.50" fill="none" stroke="#161616" stroke-width="1.1"/>
<circle cx="97.00" cy="282.50" r="1.2" fill="#161616"/>
<circle cx="117.50" cy="248.75" r="1.2" fill="#161616"/>
<circle cx="133.75" cy="231.25" r="1.2" fill="#161616"/>
<circle cx="149.50" cy="220.00" r="1.2" fill="#161616"/>
<circle cx="165.00" cy="199.50" r="1.2" fill="#161616"/>
<polyline points="97.00,271.25 117.50,266.25 133.75,252.50 149.50,241.25 165.00,226.25 180.00,198.75" fill="none" stroke="#161616" stroke-width="1.1"/>
<circle cx="97.00" cy="271.25" r="1.2" fill="#161616"/>
<circle cx="117.50" cy="266.25" r="1.2" fill="#161616"/>
<circle cx="133.75" cy="252.50" r="1.2" fill="#161616"/>
<circle cx="149.50" cy="241.25" r="1.2" fill="#161616"/>
<circle cx="165.00" cy="226.25" r="1.2" fill="#161616"/>
<circle cx="180.00" cy="198.75" r="1.2" fill="#161616"/>
<polyline points="97.00,278.75 117.50,262.50 133.75,255.00 149.50,232.50 165.00,227.50 180.00,217.50" fill="none" stroke="#161616" stroke-width="1.1"/>
<circle cx="97.00" cy="278.75" r="1.2" fill="#161616"/>
<circle cx="117.50" cy="262.50" r="1.2" fill="#161616"/>
<circle cx="133.75" cy="255.00" r="1.2" fill="#161616"/>
<circle cx="149.50" cy="232.50" r="1.2" fill="#161616"/>
<circle cx="165.00" cy="227.50" r="1.2" fill="#161616"/>
<circle cx="180.00" cy="217.50" r="1.2" fill="#161616"/>
<polyline points="97.00,285.00 117.50,266.25 133.75,262.50 149.50,245.00 165.00,236.00 180.00,250.00" fill="none" stroke="#161616" stroke-width="1.1"/>
<circle cx="97.00" cy="285.00" r="1.2" fill="#161616"/>
<circle cx="117.50" cy="266.25" r="1.2" fill="#161616"/>
<circle cx="133.75" cy="262.50" r="1.2" fill="#161616"/>
<circle cx="149.50" cy="245.00" r="1.2" fill="#161616"/>
<circle cx="165.00" cy="236.00" r="1.2" fill="#161616"/>
<circle cx="180.00" cy="250.00" r="1.2" fill="#161616"/>
<polyline points="97.00,287.50 117.50,270.00 133.75,265.00 149.50,240.00 165.00,233.75 180.00,221.25" fill="none" stroke="#161616" stroke-width="1.1"/>
<circle cx="97.00" cy="287.50" r="1.2" fill="#161616"/>
<circle cx="117.50" cy="270.00" r="1.2" fill="#161616"/>
<circle cx="133.75" cy="265.00" r="1.2" fill="#161616"/>
<circle cx="149.50" cy="240.00" r="1.2" fill="#161616"/>
<circle cx="165.00" cy="233.75" r="1.2" fill="#161616"/>
<circle cx="180.00" cy="221.25" r="1.2" fill="#161616"/>
<polyline points="97.00,290.00 117.50,276.25 133.75,266.25 149.50,251.25 165.00,247.50 180.00,230.00" fill="none" stroke="#161616" stroke-width="1.1"/>
<circle cx="97.00" cy="290.00" r="1.2" fill="#161616"/>
<circle cx="117.50" cy="276.25" r="1.2" fill="#161616"/>
<circle cx="133.75" cy="266.25" r="1.2" fill="#161616"/>
<circle cx="149.50" cy="251.25" r="1.2" fill="#161616"/>
<circle cx="165.00" cy="247.50" r="1.2" fill="#161616"/>
<circle cx="180.00" cy="230.00" r="1.2" fill="#161616"/>
<polyline points="97.00,288.75 117.50,267.50 133.75,255.00 149.50,237.50 165.00,231.25 180.00,247.50" fill="none" stroke="#161616" stroke-width="1.1"/>
<circle cx="97.00" cy="288.75" r="1.2" fill="#161616"/>
<circle cx="117.50" cy="267.50" r="1.2" fill="#161616"/>
<circle cx="133.75" cy="255.00" r="1.2" fill="#161616"/>
<circle cx="149.50" cy="237.50" r="1.2" fill="#161616"/>
<circle cx="165.00" cy="231.25" r="1.2" fill="#161616"/>
<circle cx="180.00" cy="247.50" r="1.2" fill="#161616"/>
<polyline points="97.00,280.00 117.50,255.00 133.75,250.00 149.50,231.25 165.00,227.50 180.00,232.50" fill="none" stroke="#161616" stroke-width="1.1"/>
<circle cx="97.00" cy="280.00" r="1.2" fill="#161616"/>
<circle cx="117.50" cy="255.00" r="1.2" fill="#161616"/>
<circle cx="133.75" cy="250.00" r="1.2" fill="#161616"/>
<circle cx="149.50" cy="231.25" r="1.2" fill="#161616"/>
<circle cx="165.00" cy="227.50" r="1.2" fill="#161616"/>
<circle cx="180.00" cy="232.50" r="1.2" fill="#161616"/>
<polyline points="118.00,292.50 133.50,277.50 149.25,271.75 165.00,256.75 180.00,240.00 201.00,234.25" fill="none" stroke="#161616" stroke-width="1.1" stroke-dasharray="3,1.8"/>
<circle cx="118.00" cy="292.50" r="1.3" fill="none" stroke="#161616" stroke-width="0.7"/>
<circle cx="133.50" cy="277.50" r="1.3" fill="none" stroke="#161616" stroke-width="0.7"/>
<circle cx="149.25" cy="271.75" r="1.3" fill="none" stroke="#161616" stroke-width="0.7"/>
<circle cx="165.00" cy="256.75" r="1.3" fill="none" stroke="#161616" stroke-width="0.7"/>
<circle cx="180.00" cy="240.00" r="1.3" fill="none" stroke="#161616" stroke-width="0.7"/>
<circle cx="201.00" cy="234.25" r="1.3" fill="none" stroke="#161616" stroke-width="0.7"/>
<polyline points="97.00,285.00 117.50,281.25 133.75,275.00 149.50,252.50 165.00,240.00 180.00,230.00 201.00,223.75" fill="none" stroke="#161616" stroke-width="1.1" stroke-dasharray="3,1.8"/>
<circle cx="97.00" cy="285.00" r="1.3" fill="none" stroke="#161616" stroke-width="0.7"/>
<circle cx="117.50" cy="281.25" r="1.3" fill="none" stroke="#161616" stroke-width="0.7"/>
<circle cx="133.75" cy="275.00" r="1.3" fill="none" stroke="#161616" stroke-width="0.7"/>
<circle cx="149.50" cy="252.50" r="1.3" fill="none" stroke="#161616" stroke-width="0.7"/>
<circle cx="165.00" cy="240.00" r="1.3" fill="none" stroke="#161616" stroke-width="0.7"/>
<circle cx="180.00" cy="230.00" r="1.3" fill="none" stroke="#161616" stroke-width="0.7"/>
<circle cx="201.00" cy="223.75" r="1.3" fill="none" stroke="#161616" stroke-width="0.7"/>
<polyline points="117.50,290.00 133.75,272.50 149.50,262.50 165.00,257.50 180.00,242.50 201.00,226.25" fill="none" stroke="#161616" stroke-width="1.1" stroke-dasharray="3,1.8"/>
<circle cx="117.50" cy="290.00" r="1.3" fill="none" stroke="#161616" stroke-width="0.7"/>
<circle cx="133.75" cy="272.50" r="1.3" fill="none" stroke="#161616" stroke-width="0.7"/>
<circle cx="149.50" cy="262.50" r="1.3" fill="none" stroke="#161616" stroke-width="0.7"/>
<circle cx="165.00" cy="257.50" r="1.3" fill="none" stroke="#161616" stroke-width="0.7"/>
<circle cx="180.00" cy="242.50" r="1.3" fill="none" stroke="#161616" stroke-width="0.7"/>
<circle cx="201.00" cy="226.25" r="1.3" fill="none" stroke="#161616" stroke-width="0.7"/>
<polyline points="149.25,213.50 165.00,210.00 180.00,194.25 201.00,202.50" fill="none" stroke="#161616" stroke-width="1.1" stroke-dasharray="3,1.8"/>
<circle cx="149.25" cy="213.50" r="1.3" fill="none" stroke="#161616" stroke-width="0.7"/>
<circle cx="165.00" cy="210.00" r="1.3" fill="none" stroke="#161616" stroke-width="0.7"/>
<circle cx="180.00" cy="194.25" r="1.3" fill="none" stroke="#161616" stroke-width="0.7"/>
<circle cx="201.00" cy="202.50" r="1.3" fill="none" stroke="#161616" stroke-width="0.7"/>
<polyline points="133.75,266.25 149.50,260.00 165.00,250.00 180.00,222.50 201.00,225.00" fill="none" stroke="#161616" stroke-width="1.1" stroke-dasharray="3,1.8"/>
<circle cx="133.75" cy="266.25" r="1.3" fill="none" stroke="#161616" stroke-width="0.7"/>
<circle cx="149.50" cy="260.00" r="1.3" fill="none" stroke="#161616" stroke-width="0.7"/>
<circle cx="165.00" cy="250.00" r="1.3" fill="none" stroke="#161616" stroke-width="0.7"/>
<circle cx="180.00" cy="222.50" r="1.3" fill="none" stroke="#161616" stroke-width="0.7"/>
<circle cx="201.00" cy="225.00" r="1.3" fill="none" stroke="#161616" stroke-width="0.7"/>
<line x1="242.50" y1="188.70" x2="242.50" y2="300.60" stroke="#161616" stroke-width="1.3"/>
<line x1="241.90" y1="298.00" x2="406.00" y2="298.00" stroke="#161616" stroke-width="1.3"/>
<line x1="239.90" y1="298.00" x2="242.50" y2="298.00" stroke="#161616" stroke-width="1.2"/>
<text x="239.20" y="301.20" font-size="9.3" font-weight="bold" font-style="normal" text-anchor="end"  textLength="4.84" lengthAdjust="spacingAndGlyphs">0</text>
<line x1="239.90" y1="248.35" x2="242.50" y2="248.35" stroke="#161616" stroke-width="1.2"/>
<text x="239.20" y="251.55" font-size="9.3" font-weight="bold" font-style="normal" text-anchor="end"  textLength="9.67" lengthAdjust="spacingAndGlyphs">50</text>
<line x1="239.90" y1="198.70" x2="242.50" y2="198.70" stroke="#161616" stroke-width="1.2"/>
<text x="239.20" y="201.90" font-size="9.3" font-weight="bold" font-style="normal" text-anchor="end"  textLength="14.51" lengthAdjust="spacingAndGlyphs">100</text>
<line x1="242.50" y1="298.00" x2="242.50" y2="300.60" stroke="#161616" stroke-width="1.2"/>
<text x="242.50" y="310.70" font-size="9.3" font-weight="bold" font-style="normal" text-anchor="middle"  textLength="4.84" lengthAdjust="spacingAndGlyphs">0</text>
<line x1="283.50" y1="298.00" x2="283.50" y2="300.60" stroke="#161616" stroke-width="1.2"/>
<text x="283.50" y="310.70" font-size="9.3" font-weight="bold" font-style="normal" text-anchor="middle"  textLength="9.67" lengthAdjust="spacingAndGlyphs">10</text>
<line x1="324.50" y1="298.00" x2="324.50" y2="300.60" stroke="#161616" stroke-width="1.2"/>
<text x="324.50" y="310.70" font-size="9.3" font-weight="bold" font-style="normal" text-anchor="middle"  textLength="9.67" lengthAdjust="spacingAndGlyphs">20</text>
<line x1="365.50" y1="298.00" x2="365.50" y2="300.60" stroke="#161616" stroke-width="1.2"/>
<text x="365.50" y="310.70" font-size="9.3" font-weight="bold" font-style="normal" text-anchor="middle"  textLength="9.67" lengthAdjust="spacingAndGlyphs">30</text>
<line x1="406.50" y1="298.00" x2="406.50" y2="300.60" stroke="#161616" stroke-width="1.2"/>
<text x="406.50" y="310.70" font-size="9.3" font-weight="bold" font-style="normal" text-anchor="middle"  textLength="9.67" lengthAdjust="spacingAndGlyphs">40</text>
<text x="324.00" y="326.20" font-size="11.6" font-weight="bold" font-style="normal" text-anchor="middle" >Day</text>
<text transform="translate(226.80,243.40) rotate(-90)" font-size="12.8" font-weight="bold" text-anchor="middle" textLength="65.2" lengthAdjust="spacingAndGlyphs">Survival (%)</text>
<polyline points="242.50,198.70 307.90,198.70 307.90,205.65 328.00,205.65 328.00,212.60 345.00,212.60 345.00,244.38 348.50,244.38 348.50,275.16 352.50,275.16 352.50,290.06 361.00,290.06 361.00,298.00" fill="none" stroke="#161616" stroke-width="1.1"/>
<polyline points="242.50,198.70 357.50,198.70 357.50,215.58 370.00,215.58 370.00,248.35 373.50,248.35 373.50,265.23 377.50,265.23 377.50,281.12 382.50,281.12 382.50,298.00" fill="none" stroke="#161616" stroke-width="1.1"/>
<rect x="268.50" y="196.40" width="4.6" height="4.6" fill="#161616"/>
<circle cx="287.30" cy="198.70" r="2.4" fill="none" stroke="#161616" stroke-width="1.0"/>
<rect x="305.60" y="203.35" width="4.6" height="4.6" fill="#161616"/>
<rect x="325.70" y="210.30" width="4.6" height="4.6" fill="#161616"/>
<rect x="342.70" y="242.08" width="4.6" height="4.6" fill="#161616"/>
<rect x="346.20" y="272.86" width="4.6" height="4.6" fill="#161616"/>
<rect x="350.20" y="287.76" width="4.6" height="4.6" fill="#161616"/>
<rect x="358.70" y="295.70" width="4.6" height="4.6" fill="#161616"/>
<circle cx="357.50" cy="215.58" r="2.4" fill="none" stroke="#161616" stroke-width="1.0"/>
<circle cx="370.00" cy="248.35" r="2.4" fill="none" stroke="#161616" stroke-width="1.0"/>
<circle cx="373.50" cy="265.23" r="2.4" fill="none" stroke="#161616" stroke-width="1.0"/>
<circle cx="377.50" cy="281.12" r="2.4" fill="none" stroke="#161616" stroke-width="1.0"/>
<circle cx="382.50" cy="298.00" r="2.4" fill="none" stroke="#161616" stroke-width="1.0"/>
<text x="358.50" y="198.50" font-size="13" font-weight="bold" font-style="normal" text-anchor="middle"  textLength="16.5" lengthAdjust="spacingAndGlyphs">***</text>
<line x1="382.00" y1="222.50" x2="393.00" y2="222.50" stroke="#161616" stroke-width="1.1"/>
<rect x="385.10" y="220.10" width="4.8" height="4.8" fill="#161616"/>
<line x1="382.00" y1="242.50" x2="393.00" y2="242.50" stroke="#161616" stroke-width="1.1"/>
<circle cx="387.50" cy="242.50" r="2.5" fill="none" stroke="#161616" stroke-width="1.0"/>
<text x="400.50" y="226.80" font-size="12" font-weight="normal" font-style="normal" text-anchor="start"  textLength="37.6" lengthAdjust="spacingAndGlyphs">Control</text>
<text x="400.50" y="245.30" font-size="12" font-weight="normal" font-style="normal" text-anchor="start"  textLength="49.8" lengthAdjust="spacingAndGlyphs">ZSTK474</text>
<text x="118.50" y="356.30" font-size="12" font-weight="bold" font-style="normal" text-anchor="middle"  textLength="25.9" lengthAdjust="spacingAndGlyphs">H&amp;E</text>
<text x="235.90" y="356.30" font-size="12" font-weight="bold" font-style="normal" text-anchor="middle"  textLength="32.2" lengthAdjust="spacingAndGlyphs">pAKT</text>
<text x="347.50" y="356.30" font-size="12" font-weight="bold" font-style="normal" text-anchor="middle"  textLength="45" lengthAdjust="spacingAndGlyphs">pMAPK</text>
<text x="460.80" y="356.30" font-size="12" font-weight="bold" font-style="normal" text-anchor="middle"  textLength="46" lengthAdjust="spacingAndGlyphs">p4EBP1</text>
<text x="9.40" y="444.40" font-size="12.8" font-weight="bold" font-style="normal" text-anchor="start"  textLength="45" lengthAdjust="spacingAndGlyphs">Control</text>
<text x="-0.30" y="631.70" font-size="12.6" font-weight="bold" font-style="normal" text-anchor="start"  textLength="55.3" lengthAdjust="spacingAndGlyphs">ZSTK474</text>
</svg>
</body></html>
